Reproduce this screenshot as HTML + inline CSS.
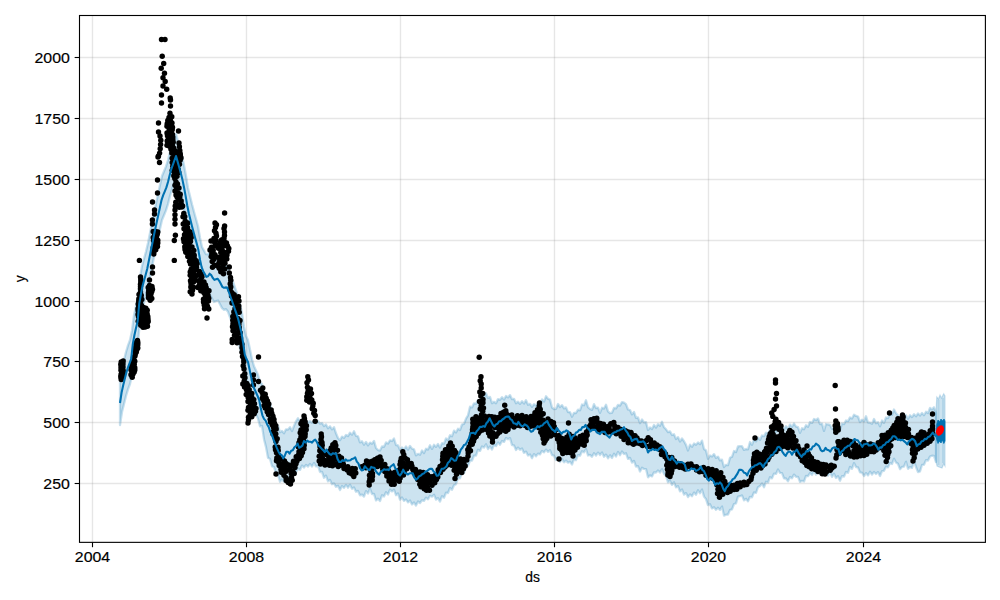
<!DOCTYPE html><html><head><meta charset="utf-8"><style>html,body{margin:0;padding:0;background:#fff;overflow:hidden}svg{display:block}</style></head><body><svg width="1000" height="600" viewBox="0 0 1000 600">
<rect width="1000" height="600" fill="#fff"/>
<path d="M120.0,381.0 L122.0,368.0 L124.0,360.0 L126.0,352.0 L128.0,345.3 L130.0,340.0 L132.0,330.7 L134.0,315.2 L136.0,306.0 L138.0,298.0 L140.0,277.3 L142.0,266.0 L144.0,258.8 L146.0,251.6 L148.0,243.0 L150.0,233.0 L152.0,223.0 L154.0,213.0 L156.0,203.4 L158.0,194.3 L160.0,185.1 L162.0,176.0 L164.0,171.2 L166.0,166.4 L168.0,160.0 L170.0,152.0 L172.0,145.2 L174.0,139.6 L176.0,134.0 L178.0,141.0 L180.0,148.0 L182.0,156.0 L184.0,165.3 L186.0,176.0 L188.0,188.0 L190.0,196.1 L192.0,204.3 L194.0,211.7 L196.0,219.0 L198.0,226.2 L200.0,237.7 L202.0,247.0 L204.0,250.6 L206.0,254.2 L208.0,254.3 L210.0,251.0 L212.0,254.5 L214.0,258.0 L216.0,257.2 L218.0,256.5 L220.0,260.3 L222.0,264.1 L224.0,265.8 L226.0,265.2 L228.0,267.8 L230.0,273.4 L232.0,279.0 L234.0,284.7 L236.0,290.3 L238.0,296.0 L240.0,304.5 L242.0,313.0 L244.0,327.0 L246.0,336.0 L248.0,340.0 L250.0,349.6 L252.0,359.2 L254.0,366.2 L256.0,370.5 L258.0,374.8 L260.0,382.3 L262.0,383.9 L264.0,392.0 L266.0,393.4 L268.0,401.4 L270.0,402.8 L272.0,412.1 L274.0,415.5 L276.0,425.5 L278.0,425.4 L280.0,432.2 L282.0,430.9 L284.0,433.3 L286.0,429.3 L288.0,429.6 L290.0,427.2 L292.0,431.0 L294.0,425.9 L296.0,421.3 L298.0,418.2 L300.0,421.7 L302.0,419.7 L304.0,421.9 L306.0,420.1 L308.0,422.7 L310.0,421.0 L312.0,422.8 L314.0,420.7 L316.0,423.2 L318.0,420.9 L320.0,423.7 L322.0,423.0 L324.0,426.1 L326.0,424.4 L328.0,428.3 L330.0,426.3 L332.0,429.4 L334.0,427.2 L336.0,433.3 L338.0,438.0 L340.0,440.2 L342.0,436.6 L344.0,437.9 L346.0,435.0 L348.0,436.1 L350.0,432.7 L352.0,434.7 L354.0,431.2 L356.0,435.9 L358.0,436.3 L360.0,442.4 L362.0,441.3 L364.0,444.7 L366.0,441.9 L368.0,445.4 L370.0,442.6 L372.0,443.7 L374.0,440.9 L376.0,447.9 L378.0,450.1 L380.0,450.5 L382.0,446.5 L384.0,446.8 L386.0,442.4 L388.0,443.6 L390.0,440.3 L392.0,441.0 L394.0,438.5 L396.0,445.0 L398.0,445.4 L400.0,450.0 L402.0,447.5 L404.0,449.5 L406.0,446.4 L408.0,449.7 L410.0,445.9 L412.0,448.7 L414.0,449.3 L416.0,455.4 L418.0,453.8 L420.0,454.7 L422.0,450.5 L424.0,453.0 L426.0,448.8 L428.0,449.6 L430.0,445.2 L432.0,448.9 L434.0,444.7 L436.0,446.9 L438.0,444.0 L440.0,447.6 L442.0,443.1 L444.0,443.7 L446.0,438.5 L448.0,440.0 L450.0,435.2 L452.0,436.2 L454.0,430.7 L456.0,432.5 L458.0,428.8 L460.0,430.0 L462.0,424.5 L464.0,423.8 L466.0,418.6 L468.0,415.3 L470.0,406.7 L472.0,407.4 L474.0,403.3 L476.0,403.8 L478.0,400.0 L480.0,400.6 L482.0,396.5 L484.0,397.5 L486.0,393.2 L488.0,397.9 L490.0,396.9 L492.0,403.2 L494.0,401.8 L496.0,403.2 L498.0,399.1 L500.0,399.8 L502.0,397.2 L504.0,399.6 L506.0,396.0 L508.0,397.4 L510.0,395.1 L512.0,399.2 L514.0,398.8 L516.0,403.2 L518.0,401.8 L520.0,403.9 L522.0,401.2 L524.0,403.6 L526.0,400.2 L528.0,404.8 L530.0,403.9 L532.0,406.8 L534.0,404.1 L536.0,405.7 L538.0,402.7 L540.0,404.6 L542.0,399.4 L544.0,401.6 L546.0,396.3 L548.0,398.8 L550.0,399.5 L552.0,407.5 L554.0,409.0 L556.0,408.9 L558.0,404.0 L560.0,407.0 L562.0,405.1 L564.0,408.4 L566.0,407.4 L568.0,412.1 L570.0,412.1 L572.0,416.8 L574.0,412.8 L576.0,413.0 L578.0,409.7 L580.0,410.3 L582.0,404.5 L584.0,405.2 L586.0,400.2 L588.0,407.2 L590.0,409.0 L592.0,409.9 L594.0,404.2 L596.0,408.0 L598.0,407.6 L600.0,412.9 L602.0,407.8 L604.0,408.6 L606.0,404.7 L608.0,411.4 L610.0,413.2 L612.0,412.7 L614.0,408.0 L616.0,408.4 L618.0,404.9 L620.0,405.6 L622.0,402.1 L624.0,402.7 L626.0,404.2 L628.0,409.5 L630.0,410.0 L632.0,414.4 L634.0,411.9 L636.0,417.9 L638.0,417.5 L640.0,423.2 L642.0,419.5 L644.0,422.4 L646.0,422.1 L648.0,430.0 L650.0,427.5 L652.0,429.0 L654.0,425.0 L656.0,427.6 L658.0,424.2 L660.0,425.8 L662.0,421.8 L664.0,427.3 L666.0,429.3 L668.0,432.1 L670.0,431.4 L672.0,435.0 L674.0,434.3 L676.0,439.0 L678.0,437.1 L680.0,441.5 L682.0,438.5 L684.0,441.2 L686.0,444.9 L688.0,450.5 L690.0,444.7 L692.0,446.8 L694.0,443.5 L696.0,444.7 L698.0,442.5 L700.0,444.2 L702.0,440.6 L704.0,449.0 L706.0,450.5 L708.0,458.8 L710.0,455.5 L712.0,456.5 L714.0,454.1 L716.0,457.9 L718.0,456.6 L720.0,460.4 L722.0,459.7 L724.0,467.1 L726.0,464.8 L728.0,465.2 L730.0,457.8 L732.0,456.8 L734.0,451.0 L736.0,452.1 L738.0,446.5 L740.0,446.2 L742.0,446.2 L744.0,449.9 L746.0,449.0 L748.0,449.3 L750.0,442.0 L752.0,444.8 L754.0,439.5 L756.0,441.4 L758.0,437.6 L760.0,439.9 L762.0,435.5 L764.0,436.2 L766.0,432.6 L768.0,433.9 L770.0,429.3 L772.0,431.5 L774.0,429.1 L776.0,431.7 L778.0,427.4 L780.0,429.6 L782.0,426.8 L784.0,429.2 L786.0,426.1 L788.0,428.7 L790.0,424.6 L792.0,426.8 L794.0,423.5 L796.0,426.6 L798.0,427.2 L800.0,432.9 L802.0,428.2 L804.0,429.3 L806.0,425.3 L808.0,426.8 L810.0,422.0 L812.0,422.9 L814.0,419.0 L816.0,420.1 L818.0,418.4 L820.0,424.1 L822.0,423.6 L824.0,430.9 L826.0,424.0 L828.0,424.5 L830.0,424.8 L832.0,428.9 L834.0,426.9 L836.0,429.5 L838.0,426.0 L840.0,430.1 L842.0,423.5 L844.0,424.1 L846.0,420.5 L848.0,421.2 L850.0,417.4 L852.0,418.5 L854.0,414.7 L856.0,415.9 L858.0,416.5 L860.0,422.1 L862.0,419.6 L864.0,421.4 L866.0,416.2 L868.0,422.5 L870.0,422.7 L872.0,423.7 L874.0,419.0 L876.0,423.2 L878.0,422.2 L880.0,426.3 L882.0,420.5 L884.0,422.9 L886.0,417.5 L888.0,418.1 L890.0,413.4 L892.0,414.8 L894.0,409.5 L896.0,413.2 L898.0,415.2 L900.0,418.6 L902.0,415.5 L904.0,418.1 L906.0,415.2 L908.0,418.7 L910.0,415.3 L912.0,417.1 L914.0,414.2 L916.0,416.3 L918.0,413.4 L920.0,415.6 L922.0,412.9 L924.0,415.2 L926.0,411.7 L928.0,413.1 L930.0,407.9 L932.0,409.4 L934.0,407.3 L936.0,413.0 L936.0,462.1 L934.0,455.8 L932.0,455.7 L930.0,456.5 L928.0,460.6 L926.0,460.1 L924.0,464.7 L922.0,465.0 L920.0,471.4 L918.0,472.1 L916.0,467.0 L914.0,461.3 L912.0,467.9 L910.0,467.0 L908.0,468.8 L906.0,461.8 L904.0,466.6 L902.0,466.9 L900.0,469.2 L898.0,463.8 L896.0,462.5 L894.0,458.7 L892.0,464.0 L890.0,462.9 L888.0,467.4 L886.0,466.7 L884.0,470.8 L882.0,471.1 L880.0,476.0 L878.0,472.1 L876.0,474.0 L874.0,472.0 L872.0,474.5 L870.0,471.7 L868.0,475.4 L866.0,473.1 L864.0,476.0 L862.0,472.7 L860.0,472.4 L858.0,467.4 L856.0,467.1 L854.0,463.1 L852.0,468.8 L850.0,466.9 L848.0,472.8 L846.0,472.0 L844.0,476.6 L842.0,476.1 L840.0,480.7 L838.0,476.2 L836.0,478.0 L834.0,473.7 L832.0,476.8 L830.0,472.3 L828.0,475.7 L826.0,472.3 L824.0,474.4 L822.0,471.1 L820.0,474.1 L818.0,470.6 L816.0,474.6 L814.0,471.3 L812.0,475.0 L810.0,473.0 L808.0,476.2 L806.0,475.9 L804.0,481.5 L802.0,480.8 L800.0,481.9 L798.0,476.8 L796.0,476.8 L794.0,474.6 L792.0,478.3 L790.0,477.0 L788.0,481.3 L786.0,478.5 L784.0,478.4 L782.0,473.1 L780.0,472.9 L778.0,469.5 L776.0,473.9 L774.0,473.6 L772.0,478.4 L770.0,477.2 L768.0,482.5 L766.0,481.8 L764.0,487.3 L762.0,483.5 L760.0,486.1 L758.0,487.2 L756.0,493.0 L754.0,492.4 L752.0,497.3 L750.0,496.8 L748.0,501.4 L746.0,498.8 L744.0,500.3 L742.0,495.4 L740.0,496.2 L738.0,496.7 L736.0,503.4 L734.0,504.0 L732.0,509.4 L730.0,509.9 L728.0,514.5 L726.0,514.7 L724.0,515.6 L722.0,506.5 L720.0,509.9 L718.0,507.7 L716.0,509.8 L714.0,507.3 L712.0,508.4 L710.0,504.2 L708.0,505.1 L706.0,499.1 L704.0,496.6 L702.0,489.5 L700.0,493.3 L698.0,490.3 L696.0,494.8 L694.0,492.5 L692.0,496.2 L690.0,494.5 L688.0,497.0 L686.0,493.1 L684.0,494.5 L682.0,489.5 L680.0,491.4 L678.0,486.1 L676.0,487.4 L674.0,482.3 L672.0,484.9 L670.0,480.7 L668.0,482.3 L666.0,476.1 L664.0,473.9 L662.0,469.2 L660.0,472.6 L658.0,470.4 L656.0,472.6 L654.0,472.3 L652.0,476.4 L650.0,475.4 L648.0,477.3 L646.0,469.1 L644.0,468.9 L642.0,467.7 L640.0,471.5 L638.0,466.2 L636.0,466.6 L634.0,460.9 L632.0,462.5 L630.0,457.9 L628.0,458.9 L626.0,453.3 L624.0,454.0 L622.0,451.5 L620.0,455.2 L618.0,451.9 L616.0,456.5 L614.0,453.7 L612.0,458.0 L610.0,455.3 L608.0,458.3 L606.0,454.6 L604.0,456.8 L602.0,452.5 L600.0,455.0 L598.0,452.6 L596.0,455.5 L594.0,453.2 L592.0,456.8 L590.0,454.9 L588.0,455.5 L586.0,449.0 L584.0,452.3 L582.0,451.2 L580.0,455.7 L578.0,455.1 L576.0,460.2 L574.0,459.2 L572.0,464.5 L570.0,461.7 L568.0,462.7 L566.0,460.6 L564.0,462.3 L562.0,458.9 L560.0,462.0 L558.0,457.8 L556.0,460.1 L554.0,455.7 L552.0,455.2 L550.0,450.1 L548.0,451.9 L546.0,449.6 L544.0,452.4 L542.0,450.9 L540.0,454.4 L538.0,453.6 L536.0,456.3 L534.0,454.1 L532.0,458.3 L530.0,454.5 L528.0,455.5 L526.0,451.6 L524.0,452.9 L522.0,448.5 L520.0,449.7 L518.0,447.6 L516.0,450.0 L514.0,445.4 L512.0,445.1 L510.0,438.1 L508.0,439.3 L506.0,438.0 L504.0,441.9 L502.0,441.0 L500.0,444.8 L498.0,442.5 L496.0,446.1 L494.0,445.0 L492.0,449.6 L490.0,446.5 L488.0,449.1 L486.0,444.3 L484.0,447.6 L482.0,446.5 L480.0,450.9 L478.0,449.7 L476.0,455.6 L474.0,455.7 L472.0,460.5 L470.0,460.9 L468.0,465.8 L466.0,466.7 L464.0,473.1 L462.0,472.3 L460.0,478.4 L458.0,478.2 L456.0,484.2 L454.0,485.3 L452.0,489.8 L450.0,488.0 L448.0,493.0 L446.0,492.7 L444.0,497.7 L442.0,496.2 L440.0,501.6 L438.0,498.1 L436.0,499.5 L434.0,494.7 L432.0,496.7 L430.0,495.8 L428.0,499.3 L426.0,497.7 L424.0,500.8 L422.0,500.3 L420.0,503.0 L418.0,501.5 L416.0,505.6 L414.0,502.4 L412.0,504.5 L410.0,500.5 L408.0,502.4 L406.0,499.4 L404.0,500.9 L402.0,497.5 L400.0,499.7 L398.0,493.4 L396.0,495.2 L394.0,489.7 L392.0,491.5 L390.0,489.6 L388.0,494.5 L386.0,492.2 L384.0,496.5 L382.0,495.3 L380.0,501.1 L378.0,498.6 L376.0,500.5 L374.0,493.9 L372.0,494.0 L370.0,488.7 L368.0,493.5 L366.0,491.1 L364.0,496.6 L362.0,494.6 L360.0,495.3 L358.0,490.9 L356.0,491.8 L354.0,487.4 L352.0,488.7 L350.0,484.7 L348.0,487.7 L346.0,484.9 L344.0,487.9 L342.0,486.0 L340.0,490.1 L338.0,485.8 L336.0,486.8 L334.0,483.4 L332.0,484.3 L330.0,479.9 L328.0,481.3 L326.0,475.6 L324.0,477.8 L322.0,471.8 L320.0,472.0 L318.0,465.8 L316.0,466.4 L314.0,462.9 L312.0,466.5 L310.0,464.0 L308.0,466.5 L306.0,464.9 L304.0,467.5 L302.0,465.5 L300.0,469.9 L298.0,468.3 L296.0,472.4 L294.0,471.7 L292.0,476.8 L290.0,475.6 L288.0,480.9 L286.0,479.5 L284.0,481.9 L282.0,479.4 L280.0,481.8 L278.0,474.9 L276.0,473.5 L274.0,467.0 L272.0,466.3 L270.0,458.7 L268.0,457.9 L266.0,447.1 L264.0,439.2 L262.0,425.9 L260.0,426.3 L258.0,418.8 L256.0,414.5 L254.0,410.2 L252.0,403.2 L250.0,393.6 L248.0,384.0 L246.0,380.0 L244.0,371.0 L242.0,357.0 L240.0,348.5 L238.0,340.0 L236.0,334.3 L234.0,328.7 L232.0,323.0 L230.0,317.4 L228.0,311.8 L226.0,309.2 L224.0,309.8 L222.0,308.1 L220.0,304.3 L218.0,300.5 L216.0,301.2 L214.0,302.0 L212.0,298.5 L210.0,295.0 L208.0,298.3 L206.0,298.2 L204.0,294.6 L202.0,291.0 L200.0,281.7 L198.0,270.2 L196.0,263.0 L194.0,255.7 L192.0,248.3 L190.0,240.1 L188.0,232.0 L186.0,220.0 L184.0,209.3 L182.0,200.0 L180.0,192.0 L178.0,185.0 L176.0,178.0 L174.0,183.6 L172.0,189.2 L170.0,196.0 L168.0,204.0 L166.0,210.4 L164.0,215.2 L162.0,220.0 L160.0,229.1 L158.0,238.3 L156.0,247.4 L154.0,257.0 L152.0,267.0 L150.0,277.0 L148.0,287.0 L146.0,295.6 L144.0,302.8 L142.0,310.0 L140.0,321.3 L138.0,342.0 L136.0,350.0 L134.0,359.2 L132.0,374.7 L130.0,384.0 L128.0,389.3 L126.0,396.0 L124.0,404.0 L122.0,412.0 L120.0,425.0 Z" fill="rgba(0,114,178,0.2)" stroke="rgba(0,114,178,0.22)" stroke-width="2.3" stroke-linejoin="round"/>
<path d="M936,412 L936.8,397 L938.5,399 L940,395 L941.5,398 L943.7,393.7 L945,396 L945,466 L943.7,464 L942,468 L939,467 L937,466 L936,461 Z" fill="rgba(0,114,178,0.2)" stroke="rgba(0,114,178,0.2)" stroke-width="1.2"/>
<path d="M937.5,400 L939.5,400 L939.5,465 L937.5,465 Z M942,398 L944,398 L944,463 L942,463 Z" fill="rgba(0,114,178,0.12)"/>
<g stroke="#808080" stroke-opacity="0.2" stroke-width="1.39"><line x1="92.5" y1="15.5" x2="92.5" y2="542.35"/><line x1="246.5" y1="15.5" x2="246.5" y2="542.35"/><line x1="400.5" y1="15.5" x2="400.5" y2="542.35"/><line x1="554.5" y1="15.5" x2="554.5" y2="542.35"/><line x1="708.5" y1="15.5" x2="708.5" y2="542.35"/><line x1="863.5" y1="15.5" x2="863.5" y2="542.35"/><line x1="79.5" y1="483.50" x2="985.4" y2="483.50"/><line x1="79.5" y1="422.50" x2="985.4" y2="422.50"/><line x1="79.5" y1="361.50" x2="985.4" y2="361.50"/><line x1="79.5" y1="301.50" x2="985.4" y2="301.50"/><line x1="79.5" y1="240.50" x2="985.4" y2="240.50"/><line x1="79.5" y1="179.50" x2="985.4" y2="179.50"/><line x1="79.5" y1="118.50" x2="985.4" y2="118.50"/><line x1="79.5" y1="57.50" x2="985.4" y2="57.50"/></g>
<g fill="#000"><circle cx="121.5" cy="373.2" r="2.7"/><circle cx="122.8" cy="377.0" r="2.7"/><circle cx="123.0" cy="364.0" r="2.7"/><circle cx="123.0" cy="374.8" r="2.7"/><circle cx="121.0" cy="370.2" r="2.7"/><circle cx="120.8" cy="364.5" r="2.7"/><circle cx="123.0" cy="367.0" r="2.7"/><circle cx="120.8" cy="377.0" r="2.7"/><circle cx="121.0" cy="367.5" r="2.7"/><circle cx="121.2" cy="362.0" r="2.7"/><circle cx="123.2" cy="370.8" r="2.7"/><circle cx="123.2" cy="361.0" r="2.7"/><circle cx="121.2" cy="379.5" r="2.7"/><circle cx="121.0" cy="375.0" r="2.7"/><circle cx="122.5" cy="369.0" r="2.7"/><circle cx="123.2" cy="372.8" r="2.7"/><circle cx="132.0" cy="372.5" r="2.7"/><circle cx="132.0" cy="368.2" r="2.7"/><circle cx="134.8" cy="350.5" r="2.7"/><circle cx="131.0" cy="374.8" r="2.7"/><circle cx="133.2" cy="366.0" r="2.7"/><circle cx="133.8" cy="359.8" r="2.7"/><circle cx="136.2" cy="346.8" r="2.7"/><circle cx="134.8" cy="367.8" r="2.7"/><circle cx="132.2" cy="377.2" r="2.7"/><circle cx="137.8" cy="342.5" r="2.7"/><circle cx="137.8" cy="344.8" r="2.7"/><circle cx="133.2" cy="362.2" r="2.7"/><circle cx="136.8" cy="349.8" r="2.7"/><circle cx="133.5" cy="357.5" r="2.7"/><circle cx="132.5" cy="370.8" r="2.7"/><circle cx="133.0" cy="374.0" r="2.7"/><circle cx="136.2" cy="352.2" r="2.7"/><circle cx="134.2" cy="372.0" r="2.7"/><circle cx="134.2" cy="364.2" r="2.7"/><circle cx="137.5" cy="340.5" r="2.7"/><circle cx="135.8" cy="344.8" r="2.7"/><circle cx="131.8" cy="364.2" r="2.7"/><circle cx="135.0" cy="348.2" r="2.7"/><circle cx="135.2" cy="354.0" r="2.7"/><circle cx="134.8" cy="370.0" r="2.7"/><circle cx="134.8" cy="361.2" r="2.7"/><circle cx="135.0" cy="356.0" r="2.7"/><circle cx="131.2" cy="366.2" r="2.7"/><circle cx="135.8" cy="342.8" r="2.7"/><circle cx="137.8" cy="348.0" r="2.7"/><circle cx="131.0" cy="369.8" r="2.7"/><circle cx="145.5" cy="319.0" r="2.7"/><circle cx="141.0" cy="316.5" r="2.7"/><circle cx="142.2" cy="312.8" r="2.7"/><circle cx="138.8" cy="301.2" r="2.7"/><circle cx="147.2" cy="314.0" r="2.7"/><circle cx="140.8" cy="322.5" r="2.7"/><circle cx="143.8" cy="323.8" r="2.7"/><circle cx="143.5" cy="307.5" r="2.7"/><circle cx="143.0" cy="327.2" r="2.7"/><circle cx="141.8" cy="299.5" r="2.7"/><circle cx="147.8" cy="316.5" r="2.7"/><circle cx="145.8" cy="308.2" r="2.7"/><circle cx="138.8" cy="306.2" r="2.7"/><circle cx="138.0" cy="308.8" r="2.7"/><circle cx="138.2" cy="311.0" r="2.7"/><circle cx="145.2" cy="327.0" r="2.7"/><circle cx="145.0" cy="315.5" r="2.7"/><circle cx="140.5" cy="302.8" r="2.7"/><circle cx="141.5" cy="305.5" r="2.7"/><circle cx="142.5" cy="310.5" r="2.7"/><circle cx="140.8" cy="297.5" r="2.7"/><circle cx="140.2" cy="313.8" r="2.7"/><circle cx="140.5" cy="284.2" r="2.7"/><circle cx="140.8" cy="325.2" r="2.7"/><circle cx="143.5" cy="321.5" r="2.7"/><circle cx="139.8" cy="319.5" r="2.7"/><circle cx="147.0" cy="323.5" r="2.7"/><circle cx="139.0" cy="294.5" r="2.7"/><circle cx="140.8" cy="308.0" r="2.7"/><circle cx="138.5" cy="316.8" r="2.7"/><circle cx="140.5" cy="292.0" r="2.7"/><circle cx="147.5" cy="326.2" r="2.7"/><circle cx="147.2" cy="310.2" r="2.7"/><circle cx="138.8" cy="299.0" r="2.7"/><circle cx="142.5" cy="319.5" r="2.7"/><circle cx="140.8" cy="279.5" r="2.7"/><circle cx="140.5" cy="288.8" r="2.7"/><circle cx="148.2" cy="321.5" r="2.7"/><circle cx="144.8" cy="313.2" r="2.7"/><circle cx="145.0" cy="311.0" r="2.7"/><circle cx="138.2" cy="321.2" r="2.7"/><circle cx="143.2" cy="317.0" r="2.7"/><circle cx="140.8" cy="281.8" r="2.7"/><circle cx="148.0" cy="319.0" r="2.7"/><circle cx="138.2" cy="304.0" r="2.7"/><circle cx="141.2" cy="295.2" r="2.7"/><circle cx="140.5" cy="286.5" r="2.7"/><circle cx="146.0" cy="321.5" r="2.7"/><circle cx="138.0" cy="314.5" r="2.7"/><circle cx="148.8" cy="290.2" r="2.7"/><circle cx="150.2" cy="300.2" r="2.7"/><circle cx="152.0" cy="286.5" r="2.7"/><circle cx="151.8" cy="291.5" r="2.7"/><circle cx="151.0" cy="294.0" r="2.7"/><circle cx="150.5" cy="296.2" r="2.7"/><circle cx="148.5" cy="295.0" r="2.7"/><circle cx="148.5" cy="297.8" r="2.7"/><circle cx="151.8" cy="298.5" r="2.7"/><circle cx="150.2" cy="288.5" r="2.7"/><circle cx="148.5" cy="292.8" r="2.7"/><circle cx="149.5" cy="285.5" r="2.7"/><circle cx="148.2" cy="287.5" r="2.7"/><circle cx="152.5" cy="289.2" r="2.7"/><circle cx="155.8" cy="239.0" r="2.7"/><circle cx="155.5" cy="247.5" r="2.7"/><circle cx="155.0" cy="243.0" r="2.7"/><circle cx="154.5" cy="233.5" r="2.7"/><circle cx="153.2" cy="237.5" r="2.7"/><circle cx="157.8" cy="240.2" r="2.7"/><circle cx="156.5" cy="236.5" r="2.7"/><circle cx="157.5" cy="246.5" r="2.7"/><circle cx="155.8" cy="249.8" r="2.7"/><circle cx="153.5" cy="240.5" r="2.7"/><circle cx="155.0" cy="245.2" r="2.7"/><circle cx="157.2" cy="234.2" r="2.7"/><circle cx="157.8" cy="232.0" r="2.7"/><circle cx="153.2" cy="247.8" r="2.7"/><circle cx="153.8" cy="251.8" r="2.7"/><circle cx="157.8" cy="243.0" r="2.7"/><circle cx="155.5" cy="231.5" r="2.7"/><circle cx="153.8" cy="254.0" r="2.7"/><circle cx="153.2" cy="231.5" r="2.7"/><circle cx="167.0" cy="133.0" r="2.7"/><circle cx="176.5" cy="187.2" r="2.7"/><circle cx="179.8" cy="153.0" r="2.7"/><circle cx="176.0" cy="195.0" r="2.7"/><circle cx="172.5" cy="127.2" r="2.7"/><circle cx="172.8" cy="166.2" r="2.7"/><circle cx="169.5" cy="146.2" r="2.7"/><circle cx="177.0" cy="176.2" r="2.7"/><circle cx="172.5" cy="134.5" r="2.7"/><circle cx="178.2" cy="169.5" r="2.7"/><circle cx="174.0" cy="154.8" r="2.7"/><circle cx="177.8" cy="159.5" r="2.7"/><circle cx="169.2" cy="129.8" r="2.7"/><circle cx="175.0" cy="191.0" r="2.7"/><circle cx="181.2" cy="201.0" r="2.7"/><circle cx="173.8" cy="148.2" r="2.7"/><circle cx="181.2" cy="204.2" r="2.7"/><circle cx="177.8" cy="192.8" r="2.7"/><circle cx="175.0" cy="165.0" r="2.7"/><circle cx="167.2" cy="141.0" r="2.7"/><circle cx="179.5" cy="164.2" r="2.7"/><circle cx="169.0" cy="117.5" r="2.7"/><circle cx="177.0" cy="155.5" r="2.7"/><circle cx="171.8" cy="153.0" r="2.7"/><circle cx="170.0" cy="113.2" r="2.7"/><circle cx="174.5" cy="168.8" r="2.7"/><circle cx="172.2" cy="170.2" r="2.7"/><circle cx="180.5" cy="156.5" r="2.7"/><circle cx="167.8" cy="120.5" r="2.7"/><circle cx="172.8" cy="139.5" r="2.7"/><circle cx="175.5" cy="151.2" r="2.7"/><circle cx="170.5" cy="120.8" r="2.7"/><circle cx="170.8" cy="142.2" r="2.7"/><circle cx="169.5" cy="126.2" r="2.7"/><circle cx="168.5" cy="138.2" r="2.7"/><circle cx="167.0" cy="145.2" r="2.7"/><circle cx="179.8" cy="196.8" r="2.7"/><circle cx="174.5" cy="161.0" r="2.7"/><circle cx="180.2" cy="160.0" r="2.7"/><circle cx="170.8" cy="131.8" r="2.7"/><circle cx="172.0" cy="123.0" r="2.7"/><circle cx="174.5" cy="173.0" r="2.7"/><circle cx="170.0" cy="135.2" r="2.7"/><circle cx="177.0" cy="162.0" r="2.7"/><circle cx="174.8" cy="178.5" r="2.7"/><circle cx="175.0" cy="157.5" r="2.7"/><circle cx="177.2" cy="204.5" r="2.7"/><circle cx="173.2" cy="142.2" r="2.7"/><circle cx="172.5" cy="145.8" r="2.7"/><circle cx="180.2" cy="194.2" r="2.7"/><circle cx="177.5" cy="184.0" r="2.7"/><circle cx="175.8" cy="202.2" r="2.7"/><circle cx="171.8" cy="116.8" r="2.7"/><circle cx="176.0" cy="182.0" r="2.7"/><circle cx="172.2" cy="162.5" r="2.7"/><circle cx="179.2" cy="207.2" r="2.7"/><circle cx="177.5" cy="166.5" r="2.7"/><circle cx="171.0" cy="149.2" r="2.7"/><circle cx="172.2" cy="158.2" r="2.7"/><circle cx="178.8" cy="172.5" r="2.7"/><circle cx="167.2" cy="123.8" r="2.7"/><circle cx="178.8" cy="199.2" r="2.7"/><circle cx="173.8" cy="175.8" r="2.7"/><circle cx="172.8" cy="137.0" r="2.7"/><circle cx="167.5" cy="135.8" r="2.7"/><circle cx="176.0" cy="170.8" r="2.7"/><circle cx="177.2" cy="197.2" r="2.7"/><circle cx="167.0" cy="126.2" r="2.7"/><circle cx="173.0" cy="150.8" r="2.7"/><circle cx="181.8" cy="207.0" r="2.7"/><circle cx="175.0" cy="185.2" r="2.7"/><circle cx="172.2" cy="129.8" r="2.7"/><circle cx="179.0" cy="188.0" r="2.7"/><circle cx="175.2" cy="206.0" r="2.7"/><circle cx="188.2" cy="234.8" r="2.7"/><circle cx="190.8" cy="258.5" r="2.7"/><circle cx="193.2" cy="265.0" r="2.7"/><circle cx="204.5" cy="308.8" r="2.7"/><circle cx="207.5" cy="306.2" r="2.7"/><circle cx="204.0" cy="282.0" r="2.7"/><circle cx="192.0" cy="247.0" r="2.7"/><circle cx="200.8" cy="279.2" r="2.7"/><circle cx="187.0" cy="239.8" r="2.7"/><circle cx="206.2" cy="287.8" r="2.7"/><circle cx="185.8" cy="225.2" r="2.7"/><circle cx="188.0" cy="246.5" r="2.7"/><circle cx="191.2" cy="269.2" r="2.7"/><circle cx="191.2" cy="252.8" r="2.7"/><circle cx="185.2" cy="221.2" r="2.7"/><circle cx="209.0" cy="290.8" r="2.7"/><circle cx="193.5" cy="287.2" r="2.7"/><circle cx="185.8" cy="252.2" r="2.7"/><circle cx="184.0" cy="228.8" r="2.7"/><circle cx="188.5" cy="237.5" r="2.7"/><circle cx="203.5" cy="302.0" r="2.7"/><circle cx="192.0" cy="294.0" r="2.7"/><circle cx="191.0" cy="283.5" r="2.7"/><circle cx="187.5" cy="227.5" r="2.7"/><circle cx="190.5" cy="241.5" r="2.7"/><circle cx="194.2" cy="255.2" r="2.7"/><circle cx="195.8" cy="275.8" r="2.7"/><circle cx="193.5" cy="274.0" r="2.7"/><circle cx="191.0" cy="255.5" r="2.7"/><circle cx="208.5" cy="301.0" r="2.7"/><circle cx="185.8" cy="231.8" r="2.7"/><circle cx="190.2" cy="272.0" r="2.7"/><circle cx="202.8" cy="285.0" r="2.7"/><circle cx="208.0" cy="295.2" r="2.7"/><circle cx="199.5" cy="271.5" r="2.7"/><circle cx="196.2" cy="260.8" r="2.7"/><circle cx="185.0" cy="249.5" r="2.7"/><circle cx="198.5" cy="275.0" r="2.7"/><circle cx="198.5" cy="281.0" r="2.7"/><circle cx="184.5" cy="234.8" r="2.7"/><circle cx="208.8" cy="309.0" r="2.7"/><circle cx="193.5" cy="282.0" r="2.7"/><circle cx="185.8" cy="244.0" r="2.7"/><circle cx="203.8" cy="292.5" r="2.7"/><circle cx="192.5" cy="290.2" r="2.7"/><circle cx="196.0" cy="270.0" r="2.7"/><circle cx="188.0" cy="230.2" r="2.7"/><circle cx="189.0" cy="243.8" r="2.7"/><circle cx="191.8" cy="278.2" r="2.7"/><circle cx="206.0" cy="298.0" r="2.7"/><circle cx="193.8" cy="250.5" r="2.7"/><circle cx="197.2" cy="263.5" r="2.7"/><circle cx="199.2" cy="285.2" r="2.7"/><circle cx="204.2" cy="305.0" r="2.7"/><circle cx="188.8" cy="250.2" r="2.7"/><circle cx="192.5" cy="261.8" r="2.7"/><circle cx="201.2" cy="288.0" r="2.7"/><circle cx="189.5" cy="261.2" r="2.7"/><circle cx="184.8" cy="216.8" r="2.7"/><circle cx="197.8" cy="287.5" r="2.7"/><circle cx="194.2" cy="258.2" r="2.7"/><circle cx="206.2" cy="303.0" r="2.7"/><circle cx="183.8" cy="213.5" r="2.7"/><circle cx="201.2" cy="282.2" r="2.7"/><circle cx="187.8" cy="256.5" r="2.7"/><circle cx="184.0" cy="241.8" r="2.7"/><circle cx="183.5" cy="238.8" r="2.7"/><circle cx="195.0" cy="278.8" r="2.7"/><circle cx="190.5" cy="264.0" r="2.7"/><circle cx="190.2" cy="275.2" r="2.7"/><circle cx="196.5" cy="267.2" r="2.7"/><circle cx="201.2" cy="274.0" r="2.7"/><circle cx="190.8" cy="287.0" r="2.7"/><circle cx="208.8" cy="298.2" r="2.7"/><circle cx="190.2" cy="232.0" r="2.7"/><circle cx="200.8" cy="290.8" r="2.7"/><circle cx="191.2" cy="237.5" r="2.7"/><circle cx="187.8" cy="223.0" r="2.7"/><circle cx="205.2" cy="295.0" r="2.7"/><circle cx="190.5" cy="280.8" r="2.7"/><circle cx="203.8" cy="289.8" r="2.7"/><circle cx="185.8" cy="237.2" r="2.7"/><circle cx="183.2" cy="224.0" r="2.7"/><circle cx="205.5" cy="285.0" r="2.7"/><circle cx="206.8" cy="292.5" r="2.7"/><circle cx="184.8" cy="246.8" r="2.7"/><circle cx="202.0" cy="276.8" r="2.7"/><circle cx="190.2" cy="291.8" r="2.7"/><circle cx="203.5" cy="299.2" r="2.7"/><circle cx="193.5" cy="267.8" r="2.7"/><circle cx="188.0" cy="253.8" r="2.7"/><circle cx="193.5" cy="271.2" r="2.7"/><circle cx="191.0" cy="234.8" r="2.7"/><circle cx="224.5" cy="232.0" r="2.7"/><circle cx="223.8" cy="259.2" r="2.7"/><circle cx="216.0" cy="233.2" r="2.7"/><circle cx="218.8" cy="263.2" r="2.7"/><circle cx="218.0" cy="257.2" r="2.7"/><circle cx="220.2" cy="242.8" r="2.7"/><circle cx="218.2" cy="245.5" r="2.7"/><circle cx="215.5" cy="227.5" r="2.7"/><circle cx="214.8" cy="242.8" r="2.7"/><circle cx="222.8" cy="265.8" r="2.7"/><circle cx="214.5" cy="265.2" r="2.7"/><circle cx="220.8" cy="252.5" r="2.7"/><circle cx="211.2" cy="256.5" r="2.7"/><circle cx="222.0" cy="249.8" r="2.7"/><circle cx="223.8" cy="252.0" r="2.7"/><circle cx="218.5" cy="248.2" r="2.7"/><circle cx="224.0" cy="238.2" r="2.7"/><circle cx="226.5" cy="243.0" r="2.7"/><circle cx="224.2" cy="241.5" r="2.7"/><circle cx="215.0" cy="254.8" r="2.7"/><circle cx="224.8" cy="269.0" r="2.7"/><circle cx="227.0" cy="255.0" r="2.7"/><circle cx="221.8" cy="256.2" r="2.7"/><circle cx="219.8" cy="260.2" r="2.7"/><circle cx="211.8" cy="253.8" r="2.7"/><circle cx="213.2" cy="250.5" r="2.7"/><circle cx="212.2" cy="261.5" r="2.7"/><circle cx="224.8" cy="245.8" r="2.7"/><circle cx="211.5" cy="247.2" r="2.7"/><circle cx="220.8" cy="271.8" r="2.7"/><circle cx="228.5" cy="251.2" r="2.7"/><circle cx="223.5" cy="273.8" r="2.7"/><circle cx="211.0" cy="241.0" r="2.7"/><circle cx="224.5" cy="235.5" r="2.7"/><circle cx="219.2" cy="268.2" r="2.7"/><circle cx="212.5" cy="267.2" r="2.7"/><circle cx="222.0" cy="263.0" r="2.7"/><circle cx="227.5" cy="246.0" r="2.7"/><circle cx="216.2" cy="240.5" r="2.7"/><circle cx="216.5" cy="236.0" r="2.7"/><circle cx="214.0" cy="259.2" r="2.7"/><circle cx="215.5" cy="246.0" r="2.7"/><circle cx="221.5" cy="245.5" r="2.7"/><circle cx="226.8" cy="259.0" r="2.7"/><circle cx="214.5" cy="230.8" r="2.7"/><circle cx="224.0" cy="228.5" r="2.7"/><circle cx="225.0" cy="263.2" r="2.7"/><circle cx="217.2" cy="265.8" r="2.7"/><circle cx="214.0" cy="238.5" r="2.7"/><circle cx="222.0" cy="268.5" r="2.7"/><circle cx="224.5" cy="256.5" r="2.7"/><circle cx="221.5" cy="240.0" r="2.7"/><circle cx="228.8" cy="248.5" r="2.7"/><circle cx="216.5" cy="224.8" r="2.7"/><circle cx="235.2" cy="328.5" r="2.7"/><circle cx="255.5" cy="411.2" r="2.7"/><circle cx="230.2" cy="283.8" r="2.7"/><circle cx="232.8" cy="320.2" r="2.7"/><circle cx="232.2" cy="339.5" r="2.7"/><circle cx="251.5" cy="401.2" r="2.7"/><circle cx="240.0" cy="342.0" r="2.7"/><circle cx="248.5" cy="417.2" r="2.7"/><circle cx="239.2" cy="330.0" r="2.7"/><circle cx="242.0" cy="352.2" r="2.7"/><circle cx="251.8" cy="397.2" r="2.7"/><circle cx="236.0" cy="303.8" r="2.7"/><circle cx="232.0" cy="292.8" r="2.7"/><circle cx="249.0" cy="394.0" r="2.7"/><circle cx="237.2" cy="336.8" r="2.7"/><circle cx="243.8" cy="361.8" r="2.7"/><circle cx="233.8" cy="297.5" r="2.7"/><circle cx="242.5" cy="356.5" r="2.7"/><circle cx="234.5" cy="335.2" r="2.7"/><circle cx="242.0" cy="347.8" r="2.7"/><circle cx="244.2" cy="381.0" r="2.7"/><circle cx="248.2" cy="397.5" r="2.7"/><circle cx="236.8" cy="321.8" r="2.7"/><circle cx="236.5" cy="333.2" r="2.7"/><circle cx="235.0" cy="308.8" r="2.7"/><circle cx="250.2" cy="414.5" r="2.7"/><circle cx="239.0" cy="323.8" r="2.7"/><circle cx="249.2" cy="389.8" r="2.7"/><circle cx="239.2" cy="312.2" r="2.7"/><circle cx="238.5" cy="296.8" r="2.7"/><circle cx="243.2" cy="365.8" r="2.7"/><circle cx="248.5" cy="407.5" r="2.7"/><circle cx="240.2" cy="332.8" r="2.7"/><circle cx="240.0" cy="320.5" r="2.7"/><circle cx="240.5" cy="338.0" r="2.7"/><circle cx="244.5" cy="387.0" r="2.7"/><circle cx="244.8" cy="373.8" r="2.7"/><circle cx="235.0" cy="318.0" r="2.7"/><circle cx="239.0" cy="301.0" r="2.7"/><circle cx="235.2" cy="325.5" r="2.7"/><circle cx="230.5" cy="277.5" r="2.7"/><circle cx="250.5" cy="404.2" r="2.7"/><circle cx="230.2" cy="290.0" r="2.7"/><circle cx="244.0" cy="369.0" r="2.7"/><circle cx="253.5" cy="407.2" r="2.7"/><circle cx="238.8" cy="306.0" r="2.7"/><circle cx="246.8" cy="383.5" r="2.7"/><circle cx="238.8" cy="308.8" r="2.7"/><circle cx="246.5" cy="389.8" r="2.7"/><circle cx="236.5" cy="340.0" r="2.7"/><circle cx="234.2" cy="294.8" r="2.7"/><circle cx="235.0" cy="315.0" r="2.7"/><circle cx="248.2" cy="385.8" r="2.7"/><circle cx="233.8" cy="312.0" r="2.7"/><circle cx="251.8" cy="410.2" r="2.7"/><circle cx="235.5" cy="299.8" r="2.7"/><circle cx="254.2" cy="413.8" r="2.7"/><circle cx="239.2" cy="327.2" r="2.7"/><circle cx="254.5" cy="403.8" r="2.7"/><circle cx="245.0" cy="377.8" r="2.7"/><circle cx="248.0" cy="401.5" r="2.7"/><circle cx="232.0" cy="303.0" r="2.7"/><circle cx="233.0" cy="330.8" r="2.7"/><circle cx="231.5" cy="296.0" r="2.7"/><circle cx="242.0" cy="344.2" r="2.7"/><circle cx="232.5" cy="326.8" r="2.7"/><circle cx="251.8" cy="393.5" r="2.7"/><circle cx="248.0" cy="410.2" r="2.7"/><circle cx="237.0" cy="342.8" r="2.7"/><circle cx="230.8" cy="287.0" r="2.7"/><circle cx="246.2" cy="394.5" r="2.7"/><circle cx="230.8" cy="280.2" r="2.7"/><circle cx="232.2" cy="342.5" r="2.7"/><circle cx="233.0" cy="323.8" r="2.7"/><circle cx="251.8" cy="416.8" r="2.7"/><circle cx="242.8" cy="384.0" r="2.7"/><circle cx="243.8" cy="359.0" r="2.7"/><circle cx="248.5" cy="420.0" r="2.7"/><circle cx="236.5" cy="312.5" r="2.7"/><circle cx="242.8" cy="376.0" r="2.7"/><circle cx="237.8" cy="318.5" r="2.7"/><circle cx="232.8" cy="316.5" r="2.7"/><circle cx="256.0" cy="408.5" r="2.7"/><circle cx="253.8" cy="399.8" r="2.7"/><circle cx="302.8" cy="426.0" r="2.7"/><circle cx="274.5" cy="423.2" r="2.7"/><circle cx="284.0" cy="475.2" r="2.7"/><circle cx="285.2" cy="466.8" r="2.7"/><circle cx="304.2" cy="441.8" r="2.7"/><circle cx="281.0" cy="469.2" r="2.7"/><circle cx="270.2" cy="419.2" r="2.7"/><circle cx="304.0" cy="416.0" r="2.7"/><circle cx="298.5" cy="455.0" r="2.7"/><circle cx="302.2" cy="421.2" r="2.7"/><circle cx="276.0" cy="441.5" r="2.7"/><circle cx="262.8" cy="388.0" r="2.7"/><circle cx="292.8" cy="471.2" r="2.7"/><circle cx="301.0" cy="436.8" r="2.7"/><circle cx="283.2" cy="463.8" r="2.7"/><circle cx="276.8" cy="458.0" r="2.7"/><circle cx="304.5" cy="418.8" r="2.7"/><circle cx="299.8" cy="440.0" r="2.7"/><circle cx="276.2" cy="429.0" r="2.7"/><circle cx="293.5" cy="461.2" r="2.7"/><circle cx="303.5" cy="431.5" r="2.7"/><circle cx="306.5" cy="425.8" r="2.7"/><circle cx="301.2" cy="445.0" r="2.7"/><circle cx="288.2" cy="482.5" r="2.7"/><circle cx="276.5" cy="452.8" r="2.7"/><circle cx="268.5" cy="414.5" r="2.7"/><circle cx="289.5" cy="480.0" r="2.7"/><circle cx="292.8" cy="464.2" r="2.7"/><circle cx="294.2" cy="473.5" r="2.7"/><circle cx="279.2" cy="459.2" r="2.7"/><circle cx="301.0" cy="449.2" r="2.7"/><circle cx="286.2" cy="471.2" r="2.7"/><circle cx="267.2" cy="411.8" r="2.7"/><circle cx="279.2" cy="465.5" r="2.7"/><circle cx="275.8" cy="434.0" r="2.7"/><circle cx="302.5" cy="452.5" r="2.7"/><circle cx="273.0" cy="416.2" r="2.7"/><circle cx="263.0" cy="395.8" r="2.7"/><circle cx="265.2" cy="408.0" r="2.7"/><circle cx="273.5" cy="427.2" r="2.7"/><circle cx="297.0" cy="461.0" r="2.7"/><circle cx="295.0" cy="467.5" r="2.7"/><circle cx="263.8" cy="400.8" r="2.7"/><circle cx="275.5" cy="449.8" r="2.7"/><circle cx="274.8" cy="437.0" r="2.7"/><circle cx="299.0" cy="451.8" r="2.7"/><circle cx="271.2" cy="410.0" r="2.7"/><circle cx="288.5" cy="465.0" r="2.7"/><circle cx="291.5" cy="477.5" r="2.7"/><circle cx="278.5" cy="455.2" r="2.7"/><circle cx="266.0" cy="403.2" r="2.7"/><circle cx="262.2" cy="392.5" r="2.7"/><circle cx="274.0" cy="419.5" r="2.7"/><circle cx="304.2" cy="445.2" r="2.7"/><circle cx="296.2" cy="456.8" r="2.7"/><circle cx="302.5" cy="434.2" r="2.7"/><circle cx="273.5" cy="431.2" r="2.7"/><circle cx="278.8" cy="462.5" r="2.7"/><circle cx="286.0" cy="477.8" r="2.7"/><circle cx="305.0" cy="436.5" r="2.7"/><circle cx="271.8" cy="413.2" r="2.7"/><circle cx="268.2" cy="407.5" r="2.7"/><circle cx="301.2" cy="455.8" r="2.7"/><circle cx="301.0" cy="430.0" r="2.7"/><circle cx="282.2" cy="466.5" r="2.7"/><circle cx="291.0" cy="466.5" r="2.7"/><circle cx="272.2" cy="424.8" r="2.7"/><circle cx="289.0" cy="469.5" r="2.7"/><circle cx="282.2" cy="459.2" r="2.7"/><circle cx="304.0" cy="448.8" r="2.7"/><circle cx="281.2" cy="472.2" r="2.7"/><circle cx="278.0" cy="447.2" r="2.7"/><circle cx="299.5" cy="458.5" r="2.7"/><circle cx="305.2" cy="422.0" r="2.7"/><circle cx="305.2" cy="433.8" r="2.7"/><circle cx="266.2" cy="398.2" r="2.7"/><circle cx="260.5" cy="390.2" r="2.7"/><circle cx="296.0" cy="463.8" r="2.7"/><circle cx="283.8" cy="469.2" r="2.7"/><circle cx="298.5" cy="447.0" r="2.7"/><circle cx="306.2" cy="429.8" r="2.7"/><circle cx="290.5" cy="484.0" r="2.7"/><circle cx="303.2" cy="438.8" r="2.7"/><circle cx="284.5" cy="461.0" r="2.7"/><circle cx="270.5" cy="422.0" r="2.7"/><circle cx="299.0" cy="442.8" r="2.7"/><circle cx="286.2" cy="480.5" r="2.7"/><circle cx="291.2" cy="473.5" r="2.7"/><circle cx="264.0" cy="405.5" r="2.7"/><circle cx="277.2" cy="438.8" r="2.7"/><circle cx="273.0" cy="434.0" r="2.7"/><circle cx="275.2" cy="447.0" r="2.7"/><circle cx="262.2" cy="398.5" r="2.7"/><circle cx="268.8" cy="404.0" r="2.7"/><circle cx="286.0" cy="463.5" r="2.7"/><circle cx="278.2" cy="450.5" r="2.7"/><circle cx="265.2" cy="394.2" r="2.7"/><circle cx="303.5" cy="428.8" r="2.7"/><circle cx="300.2" cy="432.8" r="2.7"/><circle cx="301.0" cy="423.8" r="2.7"/><circle cx="275.8" cy="425.8" r="2.7"/><circle cx="267.5" cy="401.0" r="2.7"/><circle cx="276.5" cy="460.8" r="2.7"/><circle cx="292.2" cy="480.2" r="2.7"/><circle cx="311.5" cy="393.5" r="2.7"/><circle cx="314.5" cy="410.5" r="2.7"/><circle cx="307.0" cy="382.8" r="2.7"/><circle cx="311.8" cy="400.0" r="2.7"/><circle cx="309.5" cy="402.0" r="2.7"/><circle cx="313.8" cy="413.2" r="2.7"/><circle cx="307.5" cy="393.2" r="2.7"/><circle cx="308.5" cy="380.0" r="2.7"/><circle cx="307.5" cy="387.2" r="2.7"/><circle cx="310.0" cy="397.8" r="2.7"/><circle cx="313.2" cy="403.2" r="2.7"/><circle cx="315.2" cy="421.2" r="2.7"/><circle cx="312.2" cy="408.8" r="2.7"/><circle cx="306.8" cy="396.8" r="2.7"/><circle cx="306.8" cy="400.2" r="2.7"/><circle cx="312.8" cy="406.0" r="2.7"/><circle cx="310.5" cy="389.0" r="2.7"/><circle cx="315.2" cy="415.5" r="2.7"/><circle cx="307.8" cy="376.8" r="2.7"/><circle cx="308.2" cy="390.5" r="2.7"/><circle cx="371.2" cy="465.0" r="2.7"/><circle cx="343.5" cy="464.8" r="2.7"/><circle cx="319.2" cy="461.0" r="2.7"/><circle cx="355.2" cy="468.8" r="2.7"/><circle cx="351.8" cy="474.0" r="2.7"/><circle cx="330.2" cy="459.8" r="2.7"/><circle cx="321.5" cy="454.2" r="2.7"/><circle cx="364.8" cy="465.2" r="2.7"/><circle cx="341.5" cy="458.0" r="2.7"/><circle cx="332.8" cy="451.5" r="2.7"/><circle cx="336.2" cy="464.5" r="2.7"/><circle cx="369.5" cy="475.2" r="2.7"/><circle cx="332.5" cy="461.5" r="2.7"/><circle cx="331.2" cy="448.0" r="2.7"/><circle cx="335.8" cy="459.2" r="2.7"/><circle cx="332.8" cy="444.8" r="2.7"/><circle cx="332.5" cy="465.8" r="2.7"/><circle cx="366.5" cy="461.0" r="2.7"/><circle cx="320.0" cy="446.8" r="2.7"/><circle cx="369.5" cy="467.2" r="2.7"/><circle cx="325.0" cy="465.0" r="2.7"/><circle cx="328.8" cy="454.8" r="2.7"/><circle cx="329.5" cy="465.2" r="2.7"/><circle cx="372.2" cy="461.2" r="2.7"/><circle cx="369.2" cy="481.8" r="2.7"/><circle cx="355.8" cy="473.0" r="2.7"/><circle cx="322.5" cy="458.5" r="2.7"/><circle cx="336.2" cy="455.8" r="2.7"/><circle cx="329.8" cy="451.0" r="2.7"/><circle cx="321.5" cy="436.8" r="2.7"/><circle cx="320.5" cy="464.0" r="2.7"/><circle cx="325.0" cy="460.5" r="2.7"/><circle cx="350.0" cy="470.0" r="2.7"/><circle cx="347.8" cy="466.8" r="2.7"/><circle cx="349.2" cy="472.8" r="2.7"/><circle cx="339.2" cy="462.8" r="2.7"/><circle cx="361.8" cy="466.8" r="2.7"/><circle cx="335.0" cy="442.8" r="2.7"/><circle cx="319.8" cy="450.8" r="2.7"/><circle cx="335.2" cy="448.2" r="2.7"/><circle cx="340.8" cy="465.2" r="2.7"/><circle cx="322.0" cy="448.8" r="2.7"/><circle cx="333.0" cy="457.5" r="2.7"/><circle cx="347.2" cy="470.0" r="2.7"/><circle cx="342.8" cy="462.0" r="2.7"/><circle cx="352.2" cy="468.5" r="2.7"/><circle cx="322.0" cy="442.5" r="2.7"/><circle cx="332.8" cy="454.8" r="2.7"/><circle cx="339.0" cy="456.2" r="2.7"/><circle cx="369.8" cy="479.0" r="2.7"/><circle cx="353.8" cy="476.5" r="2.7"/><circle cx="370.8" cy="470.8" r="2.7"/><circle cx="327.8" cy="461.5" r="2.7"/><circle cx="338.8" cy="460.0" r="2.7"/><circle cx="369.2" cy="462.0" r="2.7"/><circle cx="322.0" cy="461.2" r="2.7"/><circle cx="319.2" cy="456.2" r="2.7"/><circle cx="337.5" cy="450.2" r="2.7"/><circle cx="353.5" cy="471.2" r="2.7"/><circle cx="344.0" cy="468.5" r="2.7"/><circle cx="321.0" cy="439.5" r="2.7"/><circle cx="325.8" cy="454.5" r="2.7"/><circle cx="321.2" cy="434.0" r="2.7"/><circle cx="369.2" cy="485.0" r="2.7"/><circle cx="367.5" cy="465.2" r="2.7"/><circle cx="328.8" cy="457.5" r="2.7"/><circle cx="372.8" cy="467.2" r="2.7"/><circle cx="366.0" cy="467.8" r="2.7"/><circle cx="338.2" cy="466.5" r="2.7"/><circle cx="373.8" cy="463.5" r="2.7"/><circle cx="335.8" cy="445.5" r="2.7"/><circle cx="322.5" cy="451.5" r="2.7"/><circle cx="322.2" cy="445.2" r="2.7"/><circle cx="319.8" cy="444.0" r="2.7"/><circle cx="481.2" cy="405.5" r="2.7"/><circle cx="480.2" cy="380.8" r="2.7"/><circle cx="481.5" cy="418.5" r="2.7"/><circle cx="480.8" cy="396.0" r="2.7"/><circle cx="483.0" cy="399.5" r="2.7"/><circle cx="482.8" cy="393.5" r="2.7"/><circle cx="479.5" cy="401.5" r="2.7"/><circle cx="483.5" cy="408.0" r="2.7"/><circle cx="481.2" cy="388.0" r="2.7"/><circle cx="481.2" cy="384.0" r="2.7"/><circle cx="479.8" cy="392.0" r="2.7"/><circle cx="482.8" cy="411.2" r="2.7"/><circle cx="483.5" cy="422.2" r="2.7"/><circle cx="480.2" cy="409.0" r="2.7"/><circle cx="481.5" cy="414.8" r="2.7"/><circle cx="481.0" cy="376.8" r="2.7"/><circle cx="483.0" cy="402.8" r="2.7"/><circle cx="484.5" cy="416.0" r="2.7"/><circle cx="417.8" cy="479.5" r="2.7"/><circle cx="437.5" cy="473.8" r="2.7"/><circle cx="475.8" cy="435.5" r="2.7"/><circle cx="403.8" cy="454.8" r="2.7"/><circle cx="382.8" cy="469.2" r="2.7"/><circle cx="464.0" cy="459.5" r="2.7"/><circle cx="373.0" cy="468.2" r="2.7"/><circle cx="400.8" cy="474.0" r="2.7"/><circle cx="426.5" cy="477.5" r="2.7"/><circle cx="384.8" cy="464.5" r="2.7"/><circle cx="468.0" cy="456.2" r="2.7"/><circle cx="460.5" cy="468.0" r="2.7"/><circle cx="420.0" cy="472.0" r="2.7"/><circle cx="392.0" cy="476.5" r="2.7"/><circle cx="453.5" cy="456.2" r="2.7"/><circle cx="454.2" cy="470.2" r="2.7"/><circle cx="387.0" cy="473.2" r="2.7"/><circle cx="420.8" cy="479.0" r="2.7"/><circle cx="451.2" cy="449.0" r="2.7"/><circle cx="381.2" cy="460.5" r="2.7"/><circle cx="424.5" cy="482.0" r="2.7"/><circle cx="447.2" cy="465.0" r="2.7"/><circle cx="387.0" cy="468.8" r="2.7"/><circle cx="463.8" cy="463.5" r="2.7"/><circle cx="437.8" cy="477.0" r="2.7"/><circle cx="394.5" cy="475.0" r="2.7"/><circle cx="394.5" cy="480.8" r="2.7"/><circle cx="445.5" cy="449.8" r="2.7"/><circle cx="391.5" cy="484.2" r="2.7"/><circle cx="411.2" cy="463.5" r="2.7"/><circle cx="432.0" cy="485.2" r="2.7"/><circle cx="424.0" cy="475.2" r="2.7"/><circle cx="448.8" cy="446.0" r="2.7"/><circle cx="456.0" cy="452.8" r="2.7"/><circle cx="469.0" cy="447.0" r="2.7"/><circle cx="440.0" cy="466.5" r="2.7"/><circle cx="448.8" cy="462.5" r="2.7"/><circle cx="404.2" cy="472.2" r="2.7"/><circle cx="457.5" cy="464.5" r="2.7"/><circle cx="430.0" cy="480.2" r="2.7"/><circle cx="457.0" cy="459.5" r="2.7"/><circle cx="407.8" cy="462.8" r="2.7"/><circle cx="438.2" cy="469.8" r="2.7"/><circle cx="460.5" cy="459.0" r="2.7"/><circle cx="403.2" cy="462.8" r="2.7"/><circle cx="372.5" cy="476.2" r="2.7"/><circle cx="409.2" cy="466.5" r="2.7"/><circle cx="454.5" cy="460.8" r="2.7"/><circle cx="402.8" cy="466.2" r="2.7"/><circle cx="451.0" cy="460.2" r="2.7"/><circle cx="372.5" cy="473.5" r="2.7"/><circle cx="424.8" cy="486.0" r="2.7"/><circle cx="389.2" cy="478.0" r="2.7"/><circle cx="414.0" cy="472.5" r="2.7"/><circle cx="450.2" cy="454.0" r="2.7"/><circle cx="446.0" cy="456.8" r="2.7"/><circle cx="442.8" cy="456.2" r="2.7"/><circle cx="456.8" cy="468.5" r="2.7"/><circle cx="458.8" cy="461.8" r="2.7"/><circle cx="445.2" cy="460.2" r="2.7"/><circle cx="404.0" cy="469.0" r="2.7"/><circle cx="391.8" cy="480.0" r="2.7"/><circle cx="443.0" cy="453.2" r="2.7"/><circle cx="405.2" cy="458.2" r="2.7"/><circle cx="442.5" cy="459.8" r="2.7"/><circle cx="433.8" cy="479.2" r="2.7"/><circle cx="449.5" cy="456.8" r="2.7"/><circle cx="456.2" cy="455.8" r="2.7"/><circle cx="451.5" cy="465.2" r="2.7"/><circle cx="458.2" cy="472.0" r="2.7"/><circle cx="397.2" cy="478.8" r="2.7"/><circle cx="382.0" cy="466.2" r="2.7"/><circle cx="427.5" cy="474.8" r="2.7"/><circle cx="380.0" cy="457.0" r="2.7"/><circle cx="463.5" cy="468.8" r="2.7"/><circle cx="442.5" cy="464.2" r="2.7"/><circle cx="454.5" cy="450.5" r="2.7"/><circle cx="377.5" cy="461.2" r="2.7"/><circle cx="440.5" cy="472.5" r="2.7"/><circle cx="377.5" cy="466.5" r="2.7"/><circle cx="456.5" cy="474.2" r="2.7"/><circle cx="391.5" cy="473.2" r="2.7"/><circle cx="470.5" cy="450.8" r="2.7"/><circle cx="397.5" cy="471.0" r="2.7"/><circle cx="468.2" cy="453.0" r="2.7"/><circle cx="448.2" cy="451.5" r="2.7"/><circle cx="421.0" cy="486.8" r="2.7"/><circle cx="418.2" cy="474.2" r="2.7"/><circle cx="470.5" cy="443.5" r="2.7"/><circle cx="443.0" cy="469.2" r="2.7"/><circle cx="471.2" cy="439.2" r="2.7"/><circle cx="454.8" cy="466.5" r="2.7"/><circle cx="384.8" cy="471.5" r="2.7"/><circle cx="472.8" cy="441.5" r="2.7"/><circle cx="452.2" cy="446.2" r="2.7"/><circle cx="400.2" cy="478.0" r="2.7"/><circle cx="400.2" cy="469.0" r="2.7"/><circle cx="399.2" cy="481.2" r="2.7"/><circle cx="478.2" cy="432.0" r="2.7"/><circle cx="419.8" cy="484.2" r="2.7"/><circle cx="401.2" cy="458.5" r="2.7"/><circle cx="461.8" cy="472.5" r="2.7"/><circle cx="427.2" cy="483.2" r="2.7"/><circle cx="374.8" cy="462.5" r="2.7"/><circle cx="426.5" cy="490.2" r="2.7"/><circle cx="412.8" cy="469.5" r="2.7"/><circle cx="427.5" cy="487.2" r="2.7"/><circle cx="415.5" cy="469.5" r="2.7"/><circle cx="434.8" cy="482.8" r="2.7"/><circle cx="394.2" cy="484.2" r="2.7"/><circle cx="398.0" cy="474.2" r="2.7"/><circle cx="466.8" cy="460.0" r="2.7"/><circle cx="388.5" cy="471.0" r="2.7"/><circle cx="421.5" cy="481.8" r="2.7"/><circle cx="373.5" cy="465.2" r="2.7"/><circle cx="460.8" cy="464.2" r="2.7"/><circle cx="372.2" cy="480.0" r="2.7"/><circle cx="389.0" cy="481.0" r="2.7"/><circle cx="389.5" cy="475.2" r="2.7"/><circle cx="435.2" cy="475.5" r="2.7"/><circle cx="446.0" cy="454.0" r="2.7"/><circle cx="424.2" cy="488.8" r="2.7"/><circle cx="467.8" cy="449.8" r="2.7"/><circle cx="405.8" cy="466.0" r="2.7"/><circle cx="380.2" cy="463.2" r="2.7"/><circle cx="407.5" cy="459.8" r="2.7"/><circle cx="432.2" cy="476.8" r="2.7"/><circle cx="429.5" cy="476.8" r="2.7"/><circle cx="403.5" cy="475.0" r="2.7"/><circle cx="474.0" cy="438.8" r="2.7"/><circle cx="402.8" cy="451.8" r="2.7"/><circle cx="450.5" cy="443.0" r="2.7"/><circle cx="406.8" cy="468.8" r="2.7"/><circle cx="448.2" cy="459.8" r="2.7"/><circle cx="430.2" cy="483.0" r="2.7"/><circle cx="445.0" cy="463.0" r="2.7"/><circle cx="445.0" cy="467.0" r="2.7"/><circle cx="400.0" cy="464.5" r="2.7"/><circle cx="423.2" cy="472.5" r="2.7"/><circle cx="423.5" cy="478.2" r="2.7"/><circle cx="454.5" cy="463.8" r="2.7"/><circle cx="415.2" cy="475.0" r="2.7"/><circle cx="412.0" cy="466.2" r="2.7"/><circle cx="429.5" cy="490.2" r="2.7"/><circle cx="421.2" cy="475.8" r="2.7"/><circle cx="478.8" cy="428.8" r="2.7"/><circle cx="377.5" cy="458.2" r="2.7"/><circle cx="394.2" cy="478.0" r="2.7"/><circle cx="426.8" cy="480.2" r="2.7"/><circle cx="461.8" cy="461.5" r="2.7"/><circle cx="452.0" cy="451.8" r="2.7"/><circle cx="465.2" cy="466.0" r="2.7"/><circle cx="416.8" cy="472.0" r="2.7"/><circle cx="374.8" cy="459.8" r="2.7"/><circle cx="436.5" cy="479.5" r="2.7"/><circle cx="400.5" cy="461.5" r="2.7"/><circle cx="386.8" cy="476.0" r="2.7"/><circle cx="422.5" cy="484.5" r="2.7"/><circle cx="448.5" cy="448.8" r="2.7"/><circle cx="395.0" cy="472.2" r="2.7"/><circle cx="384.8" cy="467.2" r="2.7"/><circle cx="863.2" cy="447.5" r="2.7"/><circle cx="924.2" cy="442.5" r="2.7"/><circle cx="860.5" cy="455.8" r="2.7"/><circle cx="790.5" cy="435.2" r="2.7"/><circle cx="884.8" cy="435.2" r="2.7"/><circle cx="800.5" cy="456.8" r="2.7"/><circle cx="484.8" cy="426.0" r="2.7"/><circle cx="753.8" cy="465.8" r="2.7"/><circle cx="685.2" cy="469.0" r="2.7"/><circle cx="779.8" cy="436.5" r="2.7"/><circle cx="771.8" cy="454.2" r="2.7"/><circle cx="776.5" cy="448.8" r="2.7"/><circle cx="512.5" cy="424.8" r="2.7"/><circle cx="702.5" cy="471.5" r="2.7"/><circle cx="824.5" cy="469.0" r="2.7"/><circle cx="892.2" cy="435.8" r="2.7"/><circle cx="778.8" cy="429.2" r="2.7"/><circle cx="885.2" cy="447.5" r="2.7"/><circle cx="903.8" cy="436.5" r="2.7"/><circle cx="711.5" cy="474.2" r="2.7"/><circle cx="810.8" cy="464.0" r="2.7"/><circle cx="848.2" cy="445.5" r="2.7"/><circle cx="603.5" cy="428.8" r="2.7"/><circle cx="533.2" cy="425.8" r="2.7"/><circle cx="808.8" cy="461.2" r="2.7"/><circle cx="533.8" cy="419.8" r="2.7"/><circle cx="899.5" cy="421.8" r="2.7"/><circle cx="545.5" cy="433.5" r="2.7"/><circle cx="539.2" cy="423.2" r="2.7"/><circle cx="496.2" cy="419.8" r="2.7"/><circle cx="839.0" cy="444.8" r="2.7"/><circle cx="498.5" cy="417.5" r="2.7"/><circle cx="716.2" cy="479.2" r="2.7"/><circle cx="760.2" cy="462.8" r="2.7"/><circle cx="537.5" cy="409.8" r="2.7"/><circle cx="567.5" cy="446.5" r="2.7"/><circle cx="769.8" cy="449.8" r="2.7"/><circle cx="781.5" cy="433.2" r="2.7"/><circle cx="516.2" cy="419.0" r="2.7"/><circle cx="887.8" cy="438.2" r="2.7"/><circle cx="476.5" cy="424.5" r="2.7"/><circle cx="787.2" cy="435.8" r="2.7"/><circle cx="830.2" cy="470.2" r="2.7"/><circle cx="473.5" cy="441.2" r="2.7"/><circle cx="474.0" cy="438.5" r="2.7"/><circle cx="651.2" cy="443.8" r="2.7"/><circle cx="590.8" cy="424.5" r="2.7"/><circle cx="840.0" cy="450.2" r="2.7"/><circle cx="493.2" cy="435.8" r="2.7"/><circle cx="575.0" cy="450.0" r="2.7"/><circle cx="790.2" cy="442.5" r="2.7"/><circle cx="903.0" cy="420.8" r="2.7"/><circle cx="905.5" cy="423.0" r="2.7"/><circle cx="849.2" cy="452.5" r="2.7"/><circle cx="806.8" cy="465.5" r="2.7"/><circle cx="716.2" cy="470.8" r="2.7"/><circle cx="537.2" cy="420.8" r="2.7"/><circle cx="581.0" cy="441.0" r="2.7"/><circle cx="903.5" cy="429.5" r="2.7"/><circle cx="881.5" cy="440.8" r="2.7"/><circle cx="647.5" cy="446.5" r="2.7"/><circle cx="544.2" cy="428.0" r="2.7"/><circle cx="913.2" cy="446.8" r="2.7"/><circle cx="725.8" cy="488.0" r="2.7"/><circle cx="490.2" cy="430.2" r="2.7"/><circle cx="919.5" cy="441.2" r="2.7"/><circle cx="818.0" cy="471.5" r="2.7"/><circle cx="806.0" cy="459.2" r="2.7"/><circle cx="566.8" cy="437.2" r="2.7"/><circle cx="836.8" cy="454.8" r="2.7"/><circle cx="508.8" cy="415.5" r="2.7"/><circle cx="927.5" cy="440.0" r="2.7"/><circle cx="855.8" cy="448.2" r="2.7"/><circle cx="756.8" cy="462.2" r="2.7"/><circle cx="767.5" cy="443.0" r="2.7"/><circle cx="776.2" cy="445.8" r="2.7"/><circle cx="548.0" cy="419.0" r="2.7"/><circle cx="868.0" cy="451.2" r="2.7"/><circle cx="517.0" cy="425.2" r="2.7"/><circle cx="794.2" cy="443.8" r="2.7"/><circle cx="570.2" cy="438.8" r="2.7"/><circle cx="576.0" cy="444.2" r="2.7"/><circle cx="773.5" cy="441.8" r="2.7"/><circle cx="915.2" cy="453.2" r="2.7"/><circle cx="828.5" cy="466.8" r="2.7"/><circle cx="603.5" cy="424.2" r="2.7"/><circle cx="525.2" cy="422.2" r="2.7"/><circle cx="786.5" cy="438.8" r="2.7"/><circle cx="734.0" cy="489.5" r="2.7"/><circle cx="869.2" cy="447.5" r="2.7"/><circle cx="632.8" cy="437.8" r="2.7"/><circle cx="821.8" cy="470.2" r="2.7"/><circle cx="580.2" cy="436.5" r="2.7"/><circle cx="720.0" cy="492.0" r="2.7"/><circle cx="730.8" cy="488.2" r="2.7"/><circle cx="491.8" cy="416.8" r="2.7"/><circle cx="541.8" cy="426.5" r="2.7"/><circle cx="872.2" cy="447.8" r="2.7"/><circle cx="478.2" cy="433.5" r="2.7"/><circle cx="654.2" cy="446.5" r="2.7"/><circle cx="769.2" cy="436.8" r="2.7"/><circle cx="723.8" cy="490.8" r="2.7"/><circle cx="737.5" cy="486.5" r="2.7"/><circle cx="748.8" cy="481.5" r="2.7"/><circle cx="597.8" cy="425.5" r="2.7"/><circle cx="482.5" cy="430.0" r="2.7"/><circle cx="859.0" cy="447.8" r="2.7"/><circle cx="871.0" cy="451.5" r="2.7"/><circle cx="804.0" cy="450.0" r="2.7"/><circle cx="487.0" cy="424.2" r="2.7"/><circle cx="624.0" cy="439.5" r="2.7"/><circle cx="562.2" cy="444.5" r="2.7"/><circle cx="597.8" cy="429.2" r="2.7"/><circle cx="908.5" cy="434.0" r="2.7"/><circle cx="826.5" cy="471.8" r="2.7"/><circle cx="521.8" cy="422.8" r="2.7"/><circle cx="706.0" cy="475.2" r="2.7"/><circle cx="638.5" cy="440.5" r="2.7"/><circle cx="781.5" cy="447.0" r="2.7"/><circle cx="712.2" cy="469.5" r="2.7"/><circle cx="530.5" cy="426.2" r="2.7"/><circle cx="820.5" cy="464.2" r="2.7"/><circle cx="509.5" cy="420.2" r="2.7"/><circle cx="796.0" cy="448.2" r="2.7"/><circle cx="864.0" cy="442.5" r="2.7"/><circle cx="475.2" cy="430.0" r="2.7"/><circle cx="852.8" cy="445.8" r="2.7"/><circle cx="626.5" cy="434.8" r="2.7"/><circle cx="806.8" cy="456.0" r="2.7"/><circle cx="721.5" cy="487.8" r="2.7"/><circle cx="759.2" cy="458.8" r="2.7"/><circle cx="629.5" cy="434.8" r="2.7"/><circle cx="756.2" cy="456.0" r="2.7"/><circle cx="716.8" cy="484.8" r="2.7"/><circle cx="776.8" cy="427.0" r="2.7"/><circle cx="500.0" cy="425.5" r="2.7"/><circle cx="724.8" cy="485.0" r="2.7"/><circle cx="753.0" cy="473.2" r="2.7"/><circle cx="887.5" cy="457.5" r="2.7"/><circle cx="757.8" cy="467.8" r="2.7"/><circle cx="620.2" cy="433.5" r="2.7"/><circle cx="767.8" cy="459.8" r="2.7"/><circle cx="734.2" cy="485.2" r="2.7"/><circle cx="497.5" cy="433.8" r="2.7"/><circle cx="478.0" cy="421.5" r="2.7"/><circle cx="894.8" cy="430.2" r="2.7"/><circle cx="815.8" cy="466.0" r="2.7"/><circle cx="770.2" cy="433.8" r="2.7"/><circle cx="884.5" cy="442.2" r="2.7"/><circle cx="538.2" cy="416.2" r="2.7"/><circle cx="926.0" cy="436.0" r="2.7"/><circle cx="666.8" cy="459.0" r="2.7"/><circle cx="709.0" cy="477.5" r="2.7"/><circle cx="519.8" cy="417.2" r="2.7"/><circle cx="571.0" cy="442.2" r="2.7"/><circle cx="773.5" cy="448.8" r="2.7"/><circle cx="493.5" cy="421.8" r="2.7"/><circle cx="727.5" cy="492.5" r="2.7"/><circle cx="730.2" cy="491.2" r="2.7"/><circle cx="614.8" cy="429.2" r="2.7"/><circle cx="932.0" cy="438.8" r="2.7"/><circle cx="907.5" cy="437.5" r="2.7"/><circle cx="668.2" cy="472.2" r="2.7"/><circle cx="783.8" cy="440.8" r="2.7"/><circle cx="531.0" cy="416.5" r="2.7"/><circle cx="524.2" cy="419.0" r="2.7"/><circle cx="805.8" cy="452.2" r="2.7"/><circle cx="895.5" cy="437.5" r="2.7"/><circle cx="506.2" cy="413.5" r="2.7"/><circle cx="541.0" cy="415.5" r="2.7"/><circle cx="882.0" cy="446.5" r="2.7"/><circle cx="492.8" cy="432.8" r="2.7"/><circle cx="892.0" cy="438.8" r="2.7"/><circle cx="773.2" cy="451.8" r="2.7"/><circle cx="762.0" cy="454.8" r="2.7"/><circle cx="901.8" cy="432.5" r="2.7"/><circle cx="534.0" cy="415.8" r="2.7"/><circle cx="501.8" cy="419.5" r="2.7"/><circle cx="905.5" cy="427.2" r="2.7"/><circle cx="921.0" cy="447.2" r="2.7"/><circle cx="885.8" cy="452.5" r="2.7"/><circle cx="671.8" cy="470.5" r="2.7"/><circle cx="623.0" cy="433.0" r="2.7"/><circle cx="888.8" cy="447.8" r="2.7"/><circle cx="930.2" cy="430.8" r="2.7"/><circle cx="915.2" cy="438.2" r="2.7"/><circle cx="528.0" cy="419.0" r="2.7"/><circle cx="621.0" cy="429.5" r="2.7"/><circle cx="667.5" cy="469.2" r="2.7"/><circle cx="918.2" cy="445.8" r="2.7"/><circle cx="753.2" cy="469.8" r="2.7"/><circle cx="928.2" cy="434.5" r="2.7"/><circle cx="609.2" cy="429.2" r="2.7"/><circle cx="667.8" cy="462.5" r="2.7"/><circle cx="866.0" cy="444.5" r="2.7"/><circle cx="842.0" cy="442.5" r="2.7"/><circle cx="507.2" cy="424.5" r="2.7"/><circle cx="774.0" cy="437.2" r="2.7"/><circle cx="613.5" cy="431.8" r="2.7"/><circle cx="834.2" cy="466.2" r="2.7"/><circle cx="547.5" cy="426.5" r="2.7"/><circle cx="817.8" cy="468.0" r="2.7"/><circle cx="586.2" cy="440.8" r="2.7"/><circle cx="609.2" cy="426.0" r="2.7"/><circle cx="922.0" cy="437.2" r="2.7"/><circle cx="567.0" cy="441.2" r="2.7"/><circle cx="588.5" cy="430.0" r="2.7"/><circle cx="671.8" cy="457.5" r="2.7"/><circle cx="549.2" cy="433.0" r="2.7"/><circle cx="885.2" cy="439.5" r="2.7"/><circle cx="551.0" cy="421.5" r="2.7"/><circle cx="591.0" cy="419.8" r="2.7"/><circle cx="472.8" cy="423.0" r="2.7"/><circle cx="605.0" cy="432.5" r="2.7"/><circle cx="514.0" cy="427.0" r="2.7"/><circle cx="554.0" cy="432.0" r="2.7"/><circle cx="850.2" cy="441.5" r="2.7"/><circle cx="763.0" cy="458.5" r="2.7"/><circle cx="746.8" cy="484.5" r="2.7"/><circle cx="684.8" cy="465.5" r="2.7"/><circle cx="845.8" cy="454.5" r="2.7"/><circle cx="508.0" cy="429.5" r="2.7"/><circle cx="490.5" cy="426.2" r="2.7"/><circle cx="593.2" cy="426.0" r="2.7"/><circle cx="897.2" cy="427.5" r="2.7"/><circle cx="776.8" cy="441.0" r="2.7"/><circle cx="624.0" cy="436.5" r="2.7"/><circle cx="503.2" cy="430.0" r="2.7"/><circle cx="597.0" cy="421.2" r="2.7"/><circle cx="486.8" cy="418.8" r="2.7"/><circle cx="472.2" cy="433.0" r="2.7"/><circle cx="584.2" cy="445.2" r="2.7"/><circle cx="506.8" cy="419.0" r="2.7"/><circle cx="720.8" cy="472.8" r="2.7"/><circle cx="573.8" cy="441.2" r="2.7"/><circle cx="756.8" cy="452.2" r="2.7"/><circle cx="703.5" cy="467.5" r="2.7"/><circle cx="886.2" cy="461.5" r="2.7"/><circle cx="905.2" cy="432.8" r="2.7"/><circle cx="641.5" cy="441.0" r="2.7"/><circle cx="782.0" cy="444.0" r="2.7"/><circle cx="502.8" cy="422.8" r="2.7"/><circle cx="539.5" cy="403.0" r="2.7"/><circle cx="539.2" cy="406.0" r="2.7"/><circle cx="712.5" cy="478.2" r="2.7"/><circle cx="644.2" cy="442.5" r="2.7"/><circle cx="657.0" cy="445.0" r="2.7"/><circle cx="553.0" cy="429.2" r="2.7"/><circle cx="853.2" cy="442.2" r="2.7"/><circle cx="720.2" cy="479.0" r="2.7"/><circle cx="496.0" cy="436.2" r="2.7"/><circle cx="651.5" cy="447.0" r="2.7"/><circle cx="692.8" cy="466.5" r="2.7"/><circle cx="718.0" cy="489.2" r="2.7"/><circle cx="708.2" cy="468.8" r="2.7"/><circle cx="774.0" cy="425.2" r="2.7"/><circle cx="481.0" cy="425.5" r="2.7"/><circle cx="852.8" cy="454.5" r="2.7"/><circle cx="859.8" cy="453.0" r="2.7"/><circle cx="901.0" cy="437.2" r="2.7"/><circle cx="769.0" cy="457.2" r="2.7"/><circle cx="898.8" cy="433.8" r="2.7"/><circle cx="800.5" cy="452.2" r="2.7"/><circle cx="539.0" cy="427.8" r="2.7"/><circle cx="923.8" cy="439.8" r="2.7"/><circle cx="564.8" cy="439.8" r="2.7"/><circle cx="614.8" cy="426.2" r="2.7"/><circle cx="606.0" cy="426.8" r="2.7"/><circle cx="698.8" cy="468.5" r="2.7"/><circle cx="699.5" cy="471.8" r="2.7"/><circle cx="787.5" cy="444.2" r="2.7"/><circle cx="878.2" cy="442.8" r="2.7"/><circle cx="670.0" cy="476.5" r="2.7"/><circle cx="899.2" cy="424.5" r="2.7"/><circle cx="564.0" cy="447.0" r="2.7"/><circle cx="542.5" cy="435.2" r="2.7"/><circle cx="518.0" cy="421.2" r="2.7"/><circle cx="577.5" cy="447.2" r="2.7"/><circle cx="669.0" cy="467.0" r="2.7"/><circle cx="571.8" cy="449.2" r="2.7"/><circle cx="728.0" cy="485.2" r="2.7"/><circle cx="911.0" cy="443.5" r="2.7"/><circle cx="917.8" cy="449.0" r="2.7"/><circle cx="864.0" cy="455.5" r="2.7"/><circle cx="554.2" cy="426.5" r="2.7"/><circle cx="770.2" cy="446.5" r="2.7"/><circle cx="547.2" cy="423.2" r="2.7"/><circle cx="562.8" cy="453.5" r="2.7"/><circle cx="791.5" cy="439.0" r="2.7"/><circle cx="502.0" cy="416.8" r="2.7"/><circle cx="659.8" cy="446.8" r="2.7"/><circle cx="587.2" cy="435.0" r="2.7"/><circle cx="714.0" cy="475.5" r="2.7"/><circle cx="629.5" cy="439.2" r="2.7"/><circle cx="767.2" cy="452.5" r="2.7"/><circle cx="642.5" cy="445.5" r="2.7"/><circle cx="908.5" cy="429.5" r="2.7"/><circle cx="717.5" cy="474.2" r="2.7"/><circle cx="826.0" cy="465.0" r="2.7"/><circle cx="857.0" cy="456.8" r="2.7"/><circle cx="568.2" cy="449.2" r="2.7"/><circle cx="478.0" cy="428.5" r="2.7"/><circle cx="744.0" cy="485.0" r="2.7"/><circle cx="663.0" cy="452.0" r="2.7"/><circle cx="875.8" cy="447.0" r="2.7"/><circle cx="837.0" cy="449.8" r="2.7"/><circle cx="577.0" cy="440.2" r="2.7"/><circle cx="572.0" cy="446.5" r="2.7"/><circle cx="888.2" cy="432.8" r="2.7"/><circle cx="717.5" cy="493.5" r="2.7"/><circle cx="889.0" cy="451.8" r="2.7"/><circle cx="543.2" cy="431.0" r="2.7"/><circle cx="496.2" cy="422.5" r="2.7"/><circle cx="912.0" cy="440.5" r="2.7"/><circle cx="674.5" cy="461.0" r="2.7"/><circle cx="854.0" cy="450.8" r="2.7"/><circle cx="583.0" cy="435.2" r="2.7"/><circle cx="914.5" cy="444.2" r="2.7"/><circle cx="691.0" cy="464.0" r="2.7"/><circle cx="842.0" cy="446.2" r="2.7"/><circle cx="559.2" cy="442.5" r="2.7"/><circle cx="778.2" cy="443.5" r="2.7"/><circle cx="718.8" cy="482.8" r="2.7"/><circle cx="873.8" cy="451.8" r="2.7"/><circle cx="858.5" cy="450.5" r="2.7"/><circle cx="753.5" cy="463.0" r="2.7"/><circle cx="513.2" cy="420.8" r="2.7"/><circle cx="779.2" cy="448.5" r="2.7"/><circle cx="898.0" cy="418.8" r="2.7"/><circle cx="773.8" cy="428.5" r="2.7"/><circle cx="472.2" cy="435.8" r="2.7"/><circle cx="543.2" cy="420.2" r="2.7"/><circle cx="555.0" cy="434.8" r="2.7"/><circle cx="838.8" cy="441.8" r="2.7"/><circle cx="721.5" cy="483.2" r="2.7"/><circle cx="484.5" cy="421.8" r="2.7"/><circle cx="581.8" cy="444.0" r="2.7"/><circle cx="789.8" cy="445.8" r="2.7"/><circle cx="546.8" cy="438.5" r="2.7"/><circle cx="472.8" cy="427.0" r="2.7"/><circle cx="706.5" cy="471.0" r="2.7"/><circle cx="911.5" cy="437.5" r="2.7"/><circle cx="676.8" cy="463.5" r="2.7"/><circle cx="573.0" cy="436.5" r="2.7"/><circle cx="844.0" cy="440.2" r="2.7"/><circle cx="498.5" cy="428.5" r="2.7"/><circle cx="476.0" cy="416.8" r="2.7"/><circle cx="765.2" cy="454.8" r="2.7"/><circle cx="888.2" cy="443.5" r="2.7"/><circle cx="689.5" cy="466.5" r="2.7"/><circle cx="762.5" cy="465.8" r="2.7"/><circle cx="764.5" cy="461.2" r="2.7"/><circle cx="817.5" cy="462.5" r="2.7"/><circle cx="632.2" cy="435.0" r="2.7"/><circle cx="918.2" cy="435.2" r="2.7"/><circle cx="628.2" cy="442.8" r="2.7"/><circle cx="814.5" cy="461.8" r="2.7"/><circle cx="497.0" cy="425.8" r="2.7"/><circle cx="670.2" cy="460.8" r="2.7"/><circle cx="919.0" cy="438.5" r="2.7"/><circle cx="679.5" cy="467.2" r="2.7"/><circle cx="751.5" cy="476.8" r="2.7"/><circle cx="548.0" cy="436.0" r="2.7"/><circle cx="797.8" cy="446.0" r="2.7"/><circle cx="527.5" cy="427.5" r="2.7"/><circle cx="503.0" cy="426.2" r="2.7"/><circle cx="861.2" cy="445.0" r="2.7"/><circle cx="724.8" cy="481.5" r="2.7"/><circle cx="822.0" cy="467.0" r="2.7"/><circle cx="793.5" cy="436.5" r="2.7"/><circle cx="811.8" cy="468.8" r="2.7"/><circle cx="594.2" cy="422.2" r="2.7"/><circle cx="756.5" cy="465.2" r="2.7"/><circle cx="650.5" cy="439.8" r="2.7"/><circle cx="561.8" cy="450.5" r="2.7"/><circle cx="846.0" cy="443.0" r="2.7"/><circle cx="896.8" cy="422.2" r="2.7"/><circle cx="562.0" cy="438.5" r="2.7"/><circle cx="822.2" cy="473.8" r="2.7"/><circle cx="870.5" cy="444.0" r="2.7"/><circle cx="896.2" cy="432.5" r="2.7"/><circle cx="894.2" cy="425.5" r="2.7"/><circle cx="811.5" cy="458.0" r="2.7"/><circle cx="766.5" cy="448.2" r="2.7"/><circle cx="490.5" cy="420.8" r="2.7"/><circle cx="633.2" cy="441.2" r="2.7"/><circle cx="617.5" cy="431.2" r="2.7"/><circle cx="625.5" cy="430.8" r="2.7"/><circle cx="780.8" cy="441.2" r="2.7"/><circle cx="777.0" cy="437.0" r="2.7"/><circle cx="499.2" cy="421.0" r="2.7"/><circle cx="472.5" cy="429.8" r="2.7"/><circle cx="845.0" cy="447.0" r="2.7"/><circle cx="660.5" cy="450.0" r="2.7"/><circle cx="912.5" cy="449.8" r="2.7"/><circle cx="921.0" cy="433.2" r="2.7"/><circle cx="487.8" cy="421.5" r="2.7"/><circle cx="475.2" cy="433.5" r="2.7"/><circle cx="503.5" cy="412.2" r="2.7"/><circle cx="610.8" cy="423.8" r="2.7"/><circle cx="543.2" cy="413.8" r="2.7"/><circle cx="783.8" cy="435.2" r="2.7"/><circle cx="855.8" cy="445.2" r="2.7"/><circle cx="903.2" cy="417.0" r="2.7"/><circle cx="610.8" cy="431.8" r="2.7"/><circle cx="930.8" cy="436.0" r="2.7"/><circle cx="637.0" cy="443.0" r="2.7"/><circle cx="633.5" cy="444.2" r="2.7"/><circle cx="823.2" cy="464.5" r="2.7"/><circle cx="787.0" cy="441.5" r="2.7"/><circle cx="564.8" cy="449.8" r="2.7"/><circle cx="882.8" cy="438.2" r="2.7"/><circle cx="511.8" cy="415.0" r="2.7"/><circle cx="499.8" cy="432.0" r="2.7"/><circle cx="912.5" cy="453.2" r="2.7"/><circle cx="722.8" cy="494.2" r="2.7"/><circle cx="550.8" cy="427.5" r="2.7"/><circle cx="850.5" cy="456.0" r="2.7"/><circle cx="914.2" cy="457.8" r="2.7"/><circle cx="492.5" cy="438.5" r="2.7"/><circle cx="879.5" cy="447.8" r="2.7"/><circle cx="566.8" cy="452.5" r="2.7"/><circle cx="559.0" cy="435.5" r="2.7"/><circle cx="740.2" cy="483.0" r="2.7"/><circle cx="815.2" cy="469.5" r="2.7"/><circle cx="847.2" cy="440.2" r="2.7"/><circle cx="475.8" cy="419.5" r="2.7"/><circle cx="559.8" cy="445.8" r="2.7"/><circle cx="719.5" cy="497.2" r="2.7"/><circle cx="540.2" cy="412.2" r="2.7"/><circle cx="796.0" cy="440.8" r="2.7"/><circle cx="525.2" cy="425.5" r="2.7"/><circle cx="637.0" cy="438.0" r="2.7"/><circle cx="799.0" cy="449.0" r="2.7"/><circle cx="528.5" cy="422.2" r="2.7"/><circle cx="672.2" cy="467.8" r="2.7"/><circle cx="543.0" cy="423.8" r="2.7"/><circle cx="768.5" cy="439.8" r="2.7"/><circle cx="744.0" cy="482.2" r="2.7"/><circle cx="764.5" cy="451.8" r="2.7"/><circle cx="680.5" cy="463.8" r="2.7"/><circle cx="487.5" cy="430.0" r="2.7"/><circle cx="476.2" cy="436.5" r="2.7"/><circle cx="782.5" cy="438.0" r="2.7"/><circle cx="847.8" cy="449.5" r="2.7"/><circle cx="536.2" cy="425.8" r="2.7"/><circle cx="569.8" cy="452.5" r="2.7"/><circle cx="505.8" cy="427.8" r="2.7"/><circle cx="891.2" cy="430.2" r="2.7"/><circle cx="773.0" cy="445.0" r="2.7"/><circle cx="866.8" cy="454.2" r="2.7"/><circle cx="775.2" cy="421.5" r="2.7"/><circle cx="520.2" cy="425.8" r="2.7"/><circle cx="785.2" cy="446.2" r="2.7"/><circle cx="673.0" cy="465.0" r="2.7"/><circle cx="540.5" cy="419.8" r="2.7"/><circle cx="526.2" cy="416.8" r="2.7"/><circle cx="489.8" cy="436.0" r="2.7"/><circle cx="557.5" cy="439.0" r="2.7"/><circle cx="756.5" cy="459.5" r="2.7"/><circle cx="665.5" cy="454.0" r="2.7"/><circle cx="723.0" cy="477.5" r="2.7"/><circle cx="675.2" cy="466.5" r="2.7"/><circle cx="932.8" cy="433.8" r="2.7"/><circle cx="864.5" cy="450.2" r="2.7"/><circle cx="635.0" cy="435.8" r="2.7"/><circle cx="618.0" cy="427.5" r="2.7"/><circle cx="772.0" cy="439.2" r="2.7"/><circle cx="866.0" cy="447.2" r="2.7"/><circle cx="903.2" cy="425.5" r="2.7"/><circle cx="740.2" cy="486.8" r="2.7"/><circle cx="648.2" cy="437.8" r="2.7"/><circle cx="588.5" cy="427.0" r="2.7"/><circle cx="778.0" cy="422.8" r="2.7"/><circle cx="892.8" cy="428.0" r="2.7"/><circle cx="696.5" cy="466.8" r="2.7"/><circle cx="843.2" cy="450.8" r="2.7"/><circle cx="899.2" cy="429.5" r="2.7"/><circle cx="832.0" cy="468.0" r="2.7"/><circle cx="492.8" cy="424.8" r="2.7"/><circle cx="479.8" cy="431.2" r="2.7"/><circle cx="784.8" cy="443.5" r="2.7"/><circle cx="736.8" cy="489.2" r="2.7"/><circle cx="901.0" cy="427.0" r="2.7"/><circle cx="780.2" cy="426.8" r="2.7"/><circle cx="709.2" cy="471.5" r="2.7"/><circle cx="591.8" cy="428.5" r="2.7"/><circle cx="472.8" cy="419.2" r="2.7"/><circle cx="751.0" cy="479.5" r="2.7"/><circle cx="600.0" cy="427.2" r="2.7"/><circle cx="543.2" cy="438.8" r="2.7"/><circle cx="613.8" cy="422.5" r="2.7"/><circle cx="480.8" cy="421.2" r="2.7"/><circle cx="569.2" cy="434.2" r="2.7"/><circle cx="494.8" cy="417.2" r="2.7"/><circle cx="654.2" cy="443.0" r="2.7"/><circle cx="856.8" cy="454.0" r="2.7"/><circle cx="583.8" cy="439.0" r="2.7"/><circle cx="792.0" cy="432.2" r="2.7"/><circle cx="509.5" cy="426.0" r="2.7"/><circle cx="916.5" cy="442.2" r="2.7"/><circle cx="754.0" cy="457.5" r="2.7"/><circle cx="640.2" cy="443.8" r="2.7"/><circle cx="890.8" cy="445.8" r="2.7"/><circle cx="566.2" cy="444.0" r="2.7"/><circle cx="512.8" cy="418.0" r="2.7"/><circle cx="627.0" cy="438.0" r="2.7"/><circle cx="489.0" cy="416.5" r="2.7"/><circle cx="893.0" cy="432.5" r="2.7"/><circle cx="927.2" cy="443.2" r="2.7"/><circle cx="501.0" cy="413.5" r="2.7"/><circle cx="616.2" cy="433.8" r="2.7"/><circle cx="798.0" cy="454.2" r="2.7"/><circle cx="788.5" cy="433.0" r="2.7"/><circle cx="889.8" cy="440.2" r="2.7"/><circle cx="594.0" cy="418.8" r="2.7"/><circle cx="494.8" cy="427.5" r="2.7"/><circle cx="882.0" cy="435.5" r="2.7"/><circle cx="862.8" cy="452.8" r="2.7"/><circle cx="540.2" cy="409.2" r="2.7"/><circle cx="546.8" cy="431.0" r="2.7"/><circle cx="488.5" cy="433.0" r="2.7"/><circle cx="535.0" cy="412.8" r="2.7"/><circle cx="831.2" cy="465.2" r="2.7"/><circle cx="600.5" cy="423.5" r="2.7"/><circle cx="932.5" cy="428.2" r="2.7"/><circle cx="714.0" cy="472.2" r="2.7"/><circle cx="759.2" cy="454.0" r="2.7"/><circle cx="803.5" cy="458.0" r="2.7"/><circle cx="720.2" cy="475.8" r="2.7"/><circle cx="930.0" cy="441.2" r="2.7"/><circle cx="661.5" cy="454.5" r="2.7"/><circle cx="600.5" cy="430.2" r="2.7"/><circle cx="924.0" cy="432.8" r="2.7"/><circle cx="550.2" cy="430.2" r="2.7"/><circle cx="802.2" cy="460.8" r="2.7"/><circle cx="885.0" cy="455.2" r="2.7"/><circle cx="532.5" cy="422.8" r="2.7"/><circle cx="669.0" cy="457.5" r="2.7"/><circle cx="796.8" cy="451.0" r="2.7"/><circle cx="579.0" cy="444.2" r="2.7"/><circle cx="522.0" cy="415.5" r="2.7"/><circle cx="839.2" cy="453.2" r="2.7"/><circle cx="521.2" cy="420.0" r="2.7"/><circle cx="608.0" cy="432.0" r="2.7"/><circle cx="665.0" cy="456.8" r="2.7"/><circle cx="889.5" cy="436.0" r="2.7"/><circle cx="472.2" cy="444.2" r="2.7"/><circle cx="562.5" cy="441.2" r="2.7"/><circle cx="478.5" cy="418.2" r="2.7"/><circle cx="881.0" cy="443.8" r="2.7"/><circle cx="921.0" cy="443.8" r="2.7"/><circle cx="887.8" cy="454.5" r="2.7"/><circle cx="804.8" cy="462.5" r="2.7"/><circle cx="550.8" cy="436.0" r="2.7"/><circle cx="716.0" cy="482.0" r="2.7"/><circle cx="737.5" cy="483.5" r="2.7"/><circle cx="540.8" cy="432.2" r="2.7"/><circle cx="551.2" cy="424.8" r="2.7"/><circle cx="586.0" cy="437.5" r="2.7"/><circle cx="545.2" cy="436.2" r="2.7"/><circle cx="770.2" cy="443.5" r="2.7"/><circle cx="671.2" cy="473.2" r="2.7"/><circle cx="793.0" cy="448.0" r="2.7"/><circle cx="682.8" cy="467.8" r="2.7"/><circle cx="878.0" cy="445.5" r="2.7"/><circle cx="901.8" cy="423.2" r="2.7"/><circle cx="836.0" cy="458.0" r="2.7"/><circle cx="876.2" cy="450.0" r="2.7"/><circle cx="506.2" cy="421.8" r="2.7"/><circle cx="759.8" cy="465.5" r="2.7"/><circle cx="646.5" cy="440.5" r="2.7"/><circle cx="553.5" cy="422.8" r="2.7"/><circle cx="772.0" cy="431.5" r="2.7"/><circle cx="586.5" cy="432.0" r="2.7"/><circle cx="781.5" cy="430.5" r="2.7"/><circle cx="924.0" cy="445.2" r="2.7"/><circle cx="596.8" cy="418.2" r="2.7"/><circle cx="670.2" cy="464.5" r="2.7"/><circle cx="854.0" cy="457.0" r="2.7"/><circle cx="773.2" cy="434.5" r="2.7"/><circle cx="756.2" cy="470.2" r="2.7"/><circle cx="531.0" cy="419.2" r="2.7"/><circle cx="811.8" cy="461.0" r="2.7"/><circle cx="915.2" cy="450.2" r="2.7"/><circle cx="809.2" cy="466.8" r="2.7"/><circle cx="628.2" cy="432.0" r="2.7"/><circle cx="861.5" cy="449.8" r="2.7"/><circle cx="913.0" cy="461.0" r="2.7"/><circle cx="765.8" cy="457.5" r="2.7"/><circle cx="595.5" cy="427.8" r="2.7"/><circle cx="666.8" cy="465.2" r="2.7"/><circle cx="504.8" cy="416.2" r="2.7"/><circle cx="873.2" cy="445.0" r="2.7"/><circle cx="559.8" cy="448.5" r="2.7"/><circle cx="606.5" cy="429.5" r="2.7"/><circle cx="886.8" cy="449.8" r="2.7"/><circle cx="631.0" cy="442.8" r="2.7"/><circle cx="717.8" cy="477.0" r="2.7"/><circle cx="719.5" cy="485.5" r="2.7"/><circle cx="572.8" cy="452.0" r="2.7"/><circle cx="515.5" cy="423.0" r="2.7"/><circle cx="753.5" cy="460.2" r="2.7"/><circle cx="846.0" cy="451.8" r="2.7"/><circle cx="487.2" cy="427.2" r="2.7"/><circle cx="575.2" cy="438.0" r="2.7"/><circle cx="510.0" cy="423.0" r="2.7"/><circle cx="883.8" cy="450.5" r="2.7"/><circle cx="731.5" cy="485.5" r="2.7"/><circle cx="900.8" cy="419.0" r="2.7"/><circle cx="631.0" cy="432.5" r="2.7"/><circle cx="537.8" cy="413.5" r="2.7"/><circle cx="656.8" cy="447.8" r="2.7"/><circle cx="838.5" cy="447.5" r="2.7"/><circle cx="505.8" cy="431.2" r="2.7"/><circle cx="728.0" cy="489.5" r="2.7"/><circle cx="475.5" cy="427.2" r="2.7"/><circle cx="765.0" cy="464.0" r="2.7"/><circle cx="787.8" cy="447.8" r="2.7"/><circle cx="667.8" cy="475.0" r="2.7"/><circle cx="809.5" cy="456.0" r="2.7"/><circle cx="708.8" cy="474.8" r="2.7"/><circle cx="808.2" cy="453.5" r="2.7"/><circle cx="574.8" cy="447.2" r="2.7"/><circle cx="573.2" cy="444.0" r="2.7"/><circle cx="517.5" cy="415.8" r="2.7"/><circle cx="885.8" cy="444.8" r="2.7"/><circle cx="754.5" cy="453.8" r="2.7"/><circle cx="813.5" cy="464.5" r="2.7"/><circle cx="898.2" cy="436.5" r="2.7"/><circle cx="761.0" cy="468.0" r="2.7"/><circle cx="584.0" cy="442.5" r="2.7"/><circle cx="696.5" cy="470.0" r="2.7"/><circle cx="555.8" cy="429.8" r="2.7"/><circle cx="485.0" cy="428.8" r="2.7"/><circle cx="793.0" cy="441.2" r="2.7"/><circle cx="569.0" cy="444.2" r="2.7"/><circle cx="688.0" cy="464.2" r="2.7"/><circle cx="536.0" cy="418.2" r="2.7"/><circle cx="535.5" cy="423.0" r="2.7"/><circle cx="776.0" cy="451.5" r="2.7"/><circle cx="490.2" cy="423.5" r="2.7"/><circle cx="545.2" cy="440.8" r="2.7"/><circle cx="825.0" cy="474.0" r="2.7"/><circle cx="789.8" cy="430.5" r="2.7"/><circle cx="621.2" cy="436.2" r="2.7"/><circle cx="505.8" cy="410.8" r="2.7"/><circle cx="837.5" cy="423.8" r="2.7"/><circle cx="838.0" cy="427.2" r="2.7"/><circle cx="835.8" cy="432.2" r="2.7"/><circle cx="838.2" cy="430.0" r="2.7"/><circle cx="835.8" cy="421.0" r="2.7"/><circle cx="835.5" cy="429.0" r="2.7"/><circle cx="835.2" cy="425.5" r="2.7"/><circle cx="161.5" cy="39.5" r="2.7"/><circle cx="165" cy="39.5" r="2.7"/><circle cx="162.2" cy="56.3" r="2.7"/><circle cx="163.7" cy="63.5" r="2.7"/><circle cx="161.2" cy="68.3" r="2.7"/><circle cx="164.5" cy="73.2" r="2.7"/><circle cx="163" cy="77.7" r="2.7"/><circle cx="165.2" cy="81.5" r="2.7"/><circle cx="163" cy="86" r="2.7"/><circle cx="166.7" cy="89.3" r="2.7"/><circle cx="161.5" cy="95" r="2.7"/><circle cx="170.2" cy="98" r="2.7"/><circle cx="161.5" cy="103" r="2.7"/><circle cx="170.5" cy="100" r="2.7"/><circle cx="170.5" cy="106" r="2.7"/><circle cx="158.5" cy="123" r="2.7"/><circle cx="158.5" cy="156" r="2.7"/><circle cx="159.5" cy="162.5" r="2.7"/><circle cx="157.5" cy="180" r="2.7"/><circle cx="157.5" cy="193" r="2.7"/><circle cx="152.5" cy="202" r="2.7"/><circle cx="178.5" cy="131" r="2.7"/><circle cx="139.4" cy="260.4" r="2.7"/><circle cx="152.5" cy="267" r="2.7"/><circle cx="152.5" cy="273" r="2.7"/><circle cx="149.5" cy="280" r="2.7"/><circle cx="140.5" cy="277" r="2.7"/><circle cx="175.4" cy="235.2" r="2.7"/><circle cx="174.3" cy="240.5" r="2.7"/><circle cx="174.3" cy="260.4" r="2.7"/><circle cx="224.6" cy="213" r="2.7"/><circle cx="215" cy="223" r="2.7"/><circle cx="224.6" cy="226" r="2.7"/><circle cx="210" cy="250" r="2.7"/><circle cx="229.3" cy="267" r="2.7"/><circle cx="229.3" cy="273" r="2.7"/><circle cx="207" cy="318" r="2.7"/><circle cx="258.5" cy="357" r="2.7"/><circle cx="258.5" cy="381.5" r="2.7"/><circle cx="248" cy="423" r="2.7"/><circle cx="276" cy="474" r="2.7"/><circle cx="479.2" cy="357.2" r="2.7"/><circle cx="504.7" cy="405.2" r="2.7"/><circle cx="568.5" cy="423" r="2.7"/><circle cx="559" cy="459" r="2.7"/><circle cx="573" cy="456" r="2.7"/><circle cx="755" cy="438" r="2.7"/><circle cx="771.5" cy="427" r="2.7"/><circle cx="807" cy="446" r="2.7"/><circle cx="835.2" cy="385.5" r="2.7"/><circle cx="835.5" cy="409" r="2.7"/><circle cx="838" cy="441.7" r="2.7"/><circle cx="889.5" cy="413" r="2.7"/><circle cx="902.5" cy="415" r="2.7"/><circle cx="921.5" cy="432" r="2.7"/><circle cx="932.5" cy="414" r="2.7"/><circle cx="544" cy="443" r="2.7"/><circle cx="492.5" cy="442" r="2.7"/><circle cx="455" cy="478.5" r="2.7"/><circle cx="183" cy="216.7" r="2.7"/><circle cx="182.6" cy="206" r="2.7"/></g>
<g fill="#000"><circle cx="158.5" cy="132.0" r="2.7"/><circle cx="160.0" cy="136.0" r="2.7"/><circle cx="160.8" cy="140.2" r="2.7"/><circle cx="160.6" cy="144.5" r="2.7"/><circle cx="160.2" cy="148.8" r="2.7"/><circle cx="159.6" cy="153.1" r="2.7"/><circle cx="158.0" cy="157.0" r="2.7"/><circle cx="179.0" cy="143.0" r="2.7"/><circle cx="179.4" cy="146.8" r="2.7"/><circle cx="179.8" cy="150.5" r="2.7"/><circle cx="180.3" cy="154.3" r="2.7"/><circle cx="181.0" cy="158.0" r="2.7"/><circle cx="154.5" cy="210.0" r="2.7"/><circle cx="154.5" cy="214.0" r="2.7"/><circle cx="152.4" cy="220.0" r="2.7"/><circle cx="152.4" cy="224.0" r="2.7"/><circle cx="175.0" cy="210.0" r="2.7"/><circle cx="175.0" cy="214.7" r="2.7"/><circle cx="175.0" cy="219.3" r="2.7"/><circle cx="175.0" cy="224.0" r="2.7"/><circle cx="253.5" cy="375.0" r="2.7"/><circle cx="253.5" cy="380.0" r="2.7"/><circle cx="253.5" cy="385.0" r="2.7"/><circle cx="775.5" cy="380.0" r="2.7"/><circle cx="775.5" cy="383.0" r="2.7"/><circle cx="776.5" cy="393.5" r="2.7"/><circle cx="775.5" cy="399.0" r="2.7"/><circle cx="776.5" cy="406.0" r="2.7"/><circle cx="774.1" cy="409.5" r="2.7"/><circle cx="771.7" cy="413.0" r="2.7"/><circle cx="772.8" cy="416.4" r="2.7"/><circle cx="775.9" cy="419.3" r="2.7"/><circle cx="778.6" cy="422.5" r="2.7"/><circle cx="781.0" cy="426.0" r="2.7"/><circle cx="932.5" cy="422.0" r="2.7"/><circle cx="932.5" cy="426.0" r="2.7"/><circle cx="932.5" cy="430.0" r="2.7"/></g>
<path d="M120.0,403.0 L121.6,392.6 L123.2,385.2 L124.8,378.8 L126.4,372.4 L128.0,367.3 L129.6,363.1 L131.2,358.8 L132.8,344.1 L134.4,335.3 L136.0,328.0 L137.6,321.6 L139.2,303.9 L140.8,294.8 L142.4,286.6 L144.0,280.8 L145.6,275.0 L147.2,269.0 L148.8,261.0 L150.4,253.0 L152.0,245.0 L153.6,237.0 L155.2,229.1 L156.8,221.8 L158.4,214.5 L160.0,207.1 L161.6,199.8 L163.2,195.1 L164.8,191.3 L166.4,187.4 L168.0,182.0 L169.6,175.6 L171.2,169.4 L172.8,165.0 L174.4,160.5 L176.0,156.0 L177.6,161.6 L179.2,167.2 L180.8,173.2 L182.4,179.6 L184.0,187.3 L185.6,195.9 L187.2,205.2 L188.8,213.3 L190.4,219.8 L192.0,226.3 L193.6,232.3 L195.2,238.1 L196.8,243.9 L198.4,250.1 L200.0,259.7 L201.6,267.1 L203.2,271.2 L204.8,274.0 L206.4,276.9 L208.0,276.3 L209.6,273.7 L211.2,275.1 L212.8,277.9 L214.4,279.9 L216.0,279.3 L217.6,278.7 L219.2,280.8 L220.8,283.8 L222.4,286.9 L224.0,287.8 L225.6,287.4 L227.2,287.6 L228.8,292.0 L230.4,296.5 L232.0,301.0 L233.6,305.5 L235.2,310.1 L236.8,314.6 L238.4,319.7 L240.0,326.5 L241.6,333.3 L243.2,343.4 L244.8,354.6 L246.4,358.8 L248.0,362.0 L249.6,369.7 L251.2,377.4 L252.8,385.0 L254.4,389.0 L256.0,392.5 L257.6,396.0 L259.2,400.1 L260.8,408.6 L262.4,415.3 L264.0,418.9 L265.6,420.6 L267.2,424.4 L268.8,427.2 L270.4,432.1 L272.0,435.0 L273.6,439.8 L275.2,443.6 L276.8,447.9 L278.4,451.4 L280.0,454.2 L281.6,454.9 L283.2,458.3 L284.8,455.6 L286.4,451.7 L288.0,451.7 L289.6,453.6 L291.2,450.8 L292.8,450.3 L294.4,447.3 L296.0,446.0 L297.6,443.5 L299.2,447.8 L300.8,446.9 L302.4,445.6 L304.0,441.1 L305.6,442.5 L307.2,440.6 L308.8,441.8 L310.4,441.7 L312.0,442.7 L313.6,440.6 L315.2,439.6 L316.8,441.8 L318.4,445.5 L320.0,446.8 L321.6,448.7 L323.2,450.1 L324.8,452.2 L326.4,449.5 L328.0,452.1 L329.6,454.0 L331.2,454.9 L332.8,453.2 L334.4,453.7 L336.0,453.3 L337.6,459.1 L339.2,461.9 L340.8,461.9 L342.4,460.3 L344.0,461.0 L345.6,459.4 L347.2,460.8 L348.8,460.5 L350.4,460.2 L352.0,458.9 L353.6,458.5 L355.2,457.3 L356.8,461.6 L358.4,463.4 L360.0,468.2 L361.6,470.5 L363.2,470.0 L364.8,466.3 L366.4,467.9 L368.0,469.4 L369.6,469.9 L371.2,466.9 L372.8,467.6 L374.4,467.7 L376.0,471.3 L377.6,473.4 L379.2,474.6 L380.8,471.8 L382.4,470.7 L384.0,469.2 L385.6,469.7 L387.2,469.4 L388.8,470.1 L390.4,466.8 L392.0,465.5 L393.6,464.2 L395.2,468.2 L396.8,469.7 L398.4,474.1 L400.0,475.5 L401.6,473.3 L403.2,469.6 L404.8,472.8 L406.4,473.5 L408.0,474.5 L409.6,473.2 L411.2,473.2 L412.8,473.4 L414.4,477.6 L416.0,479.6 L417.6,478.5 L419.2,476.2 L420.8,475.6 L422.4,474.0 L424.0,473.4 L425.6,471.5 L427.2,471.1 L428.8,469.5 L430.4,468.7 L432.0,468.9 L433.6,471.5 L435.2,472.8 L436.8,475.8 L438.4,475.5 L440.0,472.4 L441.6,468.8 L443.2,468.8 L444.8,467.8 L446.4,466.5 L448.0,462.7 L449.6,461.4 L451.2,458.1 L452.8,459.2 L454.4,460.7 L456.0,460.5 L457.6,456.1 L459.2,454.2 L460.8,449.6 L462.4,447.8 L464.0,444.9 L465.6,444.4 L467.2,441.6 L468.8,438.6 L470.4,433.3 L472.0,433.0 L473.6,432.8 L475.2,433.9 L476.8,431.1 L478.4,429.4 L480.0,426.9 L481.6,427.0 L483.2,426.1 L484.8,426.8 L486.4,423.3 L488.0,421.5 L489.6,418.3 L491.2,421.5 L492.8,424.8 L494.4,426.5 L496.0,424.4 L497.6,423.7 L499.2,421.2 L500.8,421.2 L502.4,419.5 L504.0,418.5 L505.6,416.9 L507.2,416.6 L508.8,416.5 L510.4,419.2 L512.0,420.2 L513.6,423.2 L515.2,423.6 L516.8,424.6 L518.4,421.9 L520.0,424.4 L521.6,425.9 L523.2,426.1 L524.8,424.3 L526.4,425.3 L528.0,426.8 L529.6,429.9 L531.2,431.8 L532.8,431.1 L534.4,428.7 L536.0,428.4 L537.6,426.2 L539.2,427.1 L540.8,425.7 L542.4,425.5 L544.0,423.3 L545.6,422.3 L547.2,421.0 L548.8,424.6 L550.4,426.8 L552.0,429.3 L553.6,430.3 L555.2,432.0 L556.8,428.0 L558.4,430.3 L560.0,431.9 L561.6,433.7 L563.2,431.9 L564.8,431.8 L566.4,430.4 L568.0,431.2 L569.6,434.4 L571.2,439.4 L572.8,436.3 L574.4,435.4 L576.0,432.4 L577.6,431.9 L579.2,429.8 L580.8,430.1 L582.4,427.1 L584.0,427.2 L585.6,424.9 L587.2,427.7 L588.8,429.1 L590.4,431.5 L592.0,429.8 L593.6,429.9 L595.2,429.8 L596.8,432.4 L598.4,433.2 L600.0,434.2 L601.6,431.9 L603.2,431.8 L604.8,431.9 L606.4,434.8 L608.0,436.3 L609.6,437.6 L611.2,434.7 L612.8,433.4 L614.4,432.3 L616.0,431.9 L617.6,430.7 L619.2,430.4 L620.8,429.4 L622.4,428.9 L624.0,427.2 L625.6,430.3 L627.2,432.3 L628.8,435.5 L630.4,436.9 L632.0,441.0 L633.6,439.7 L635.2,439.0 L636.8,438.7 L638.4,442.2 L640.0,441.8 L641.6,441.9 L643.2,441.3 L644.8,443.0 L646.4,446.9 L648.0,452.5 L649.6,450.4 L651.2,450.2 L652.8,448.8 L654.4,450.0 L656.0,449.6 L657.6,450.6 L659.2,448.5 L660.8,447.3 L662.4,446.3 L664.0,449.2 L665.6,450.8 L667.2,456.5 L668.8,459.6 L670.4,460.0 L672.0,456.5 L673.6,459.7 L675.2,461.2 L676.8,463.6 L678.4,461.6 L680.0,462.4 L681.6,462.1 L683.2,462.9 L684.8,464.6 L686.4,470.5 L688.0,470.5 L689.6,470.2 L691.2,468.3 L692.8,469.1 L694.4,468.8 L696.0,470.9 L697.6,470.1 L699.2,469.2 L700.8,466.5 L702.4,470.0 L704.0,471.2 L705.6,474.6 L707.2,478.8 L708.8,480.7 L710.4,477.8 L712.0,479.1 L713.6,481.3 L715.2,484.7 L716.8,483.2 L718.4,483.9 L720.0,482.4 L721.6,484.2 L723.2,488.6 L724.8,491.2 L726.4,487.4 L728.0,485.9 L729.6,482.9 L731.2,481.6 L732.8,479.1 L734.4,478.4 L736.0,475.9 L737.6,473.4 L739.2,469.9 L740.8,469.7 L742.4,470.4 L744.0,472.7 L745.6,473.1 L747.2,475.4 L748.8,471.3 L750.4,469.1 L752.0,467.3 L753.6,466.8 L755.2,465.3 L756.8,464.9 L758.4,463.8 L760.0,463.1 L761.6,464.6 L763.2,467.2 L764.8,463.7 L766.4,462.2 L768.0,459.0 L769.6,457.8 L771.2,455.1 L772.8,455.0 L774.4,452.1 L776.0,450.8 L777.6,447.2 L779.2,446.8 L780.8,448.7 L782.4,451.8 L784.0,454.2 L785.6,455.9 L787.2,452.9 L788.8,451.4 L790.4,452.0 L792.0,454.6 L793.6,451.9 L795.2,451.7 L796.8,449.5 L798.4,452.6 L800.0,454.8 L801.6,456.9 L803.2,454.4 L804.8,453.9 L806.4,451.1 L808.0,451.4 L809.6,449.3 L811.2,449.4 L812.8,446.5 L814.4,446.0 L816.0,443.7 L817.6,444.8 L819.2,446.3 L820.8,450.2 L822.4,451.3 L824.0,450.6 L825.6,447.9 L827.2,449.8 L828.8,450.3 L830.4,451.6 L832.0,448.7 L833.6,447.5 L835.2,447.2 L836.8,448.8 L838.4,449.1 L840.0,454.7 L841.6,451.4 L843.2,450.4 L844.8,448.0 L846.4,447.3 L848.0,445.8 L849.6,445.8 L851.2,443.2 L852.8,442.3 L854.4,439.0 L856.0,439.9 L857.6,440.2 L859.2,442.5 L860.8,444.4 L862.4,446.8 L864.0,444.2 L865.6,444.0 L867.2,443.4 L868.8,445.5 L870.4,445.4 L872.0,445.0 L873.6,443.3 L875.2,444.3 L876.8,446.6 L878.4,449.7 L880.0,447.4 L881.6,447.6 L883.2,445.2 L884.8,444.7 L886.4,442.2 L888.0,442.0 L889.6,440.2 L891.2,439.0 L892.8,436.2 L894.4,436.2 L896.0,437.4 L897.6,439.9 L899.2,439.5 L900.8,440.4 L902.4,439.8 L904.0,441.1 L905.6,442.4 L907.2,444.4 L908.8,441.4 L910.4,440.3 L912.0,438.8 L913.6,439.5 L915.2,441.3 L916.8,446.1 L918.4,444.3 L920.0,443.9 L921.6,441.3 L923.2,440.9 L924.8,438.9 L926.4,439.1 L928.0,437.1 L929.6,436.6 L931.2,434.6 L932.8,432.6 L934.4,434.8 L936.0,436.7" fill="none" stroke="#0072B2" stroke-width="2.08" stroke-linejoin="round"/>
<path d="M936,436 L936.8,424 L938,420 L939.5,422 L941,419 L942.5,421 L944,419 L945,421 L945,441 L943.8,443.5 L942.5,440 L941,443 L939.5,441 L938,443.5 L936.8,440 Z" fill="#0072B2" stroke="#0072B2" stroke-width="0.8"/>
<ellipse cx="940" cy="430.5" rx="3.7" ry="5.4" transform="rotate(25 940 430.5)" fill="#ff0000"/>
<rect x="79.5" y="15.5" width="905.90" height="526.85" fill="none" stroke="#000" stroke-width="1.11"/>
<g stroke="#000" stroke-width="1.11"><line x1="92.5" y1="542.35" x2="92.5" y2="547.21"/><line x1="246.5" y1="542.35" x2="246.5" y2="547.21"/><line x1="400.5" y1="542.35" x2="400.5" y2="547.21"/><line x1="554.5" y1="542.35" x2="554.5" y2="547.21"/><line x1="708.5" y1="542.35" x2="708.5" y2="547.21"/><line x1="863.5" y1="542.35" x2="863.5" y2="547.21"/><line x1="79.5" y1="483.50" x2="74.64" y2="483.50"/><line x1="79.5" y1="422.50" x2="74.64" y2="422.50"/><line x1="79.5" y1="361.50" x2="74.64" y2="361.50"/><line x1="79.5" y1="301.50" x2="74.64" y2="301.50"/><line x1="79.5" y1="240.50" x2="74.64" y2="240.50"/><line x1="79.5" y1="179.50" x2="74.64" y2="179.50"/><line x1="79.5" y1="118.50" x2="74.64" y2="118.50"/><line x1="79.5" y1="57.50" x2="74.64" y2="57.50"/></g>
<g font-family="Liberation Sans, sans-serif" font-size="13.9" fill="#000" stroke="#000" stroke-width="0.17"><text x="92.5" y="562" text-anchor="middle" textLength="35.3" lengthAdjust="spacingAndGlyphs">2004</text><text x="246.5" y="562" text-anchor="middle" textLength="35.3" lengthAdjust="spacingAndGlyphs">2008</text><text x="400.5" y="562" text-anchor="middle" textLength="35.3" lengthAdjust="spacingAndGlyphs">2012</text><text x="554.5" y="562" text-anchor="middle" textLength="35.3" lengthAdjust="spacingAndGlyphs">2016</text><text x="708.5" y="562" text-anchor="middle" textLength="35.3" lengthAdjust="spacingAndGlyphs">2020</text><text x="863.5" y="562" text-anchor="middle" textLength="35.3" lengthAdjust="spacingAndGlyphs">2024</text><text x="69.8" y="489.20" text-anchor="end" textLength="26.5" lengthAdjust="spacingAndGlyphs">250</text><text x="69.8" y="428.20" text-anchor="end" textLength="26.5" lengthAdjust="spacingAndGlyphs">500</text><text x="69.8" y="367.20" text-anchor="end" textLength="26.5" lengthAdjust="spacingAndGlyphs">750</text><text x="69.8" y="307.20" text-anchor="end" textLength="35.3" lengthAdjust="spacingAndGlyphs">1000</text><text x="69.8" y="246.20" text-anchor="end" textLength="35.3" lengthAdjust="spacingAndGlyphs">1250</text><text x="69.8" y="185.20" text-anchor="end" textLength="35.3" lengthAdjust="spacingAndGlyphs">1500</text><text x="69.8" y="124.20" text-anchor="end" textLength="35.3" lengthAdjust="spacingAndGlyphs">1750</text><text x="69.8" y="63.20" text-anchor="end" textLength="35.3" lengthAdjust="spacingAndGlyphs">2000</text><text x="532.5" y="582" text-anchor="middle">ds</text><text transform="translate(25.2,278.9) rotate(-90)" text-anchor="middle">y</text></g>
</svg></body></html>
